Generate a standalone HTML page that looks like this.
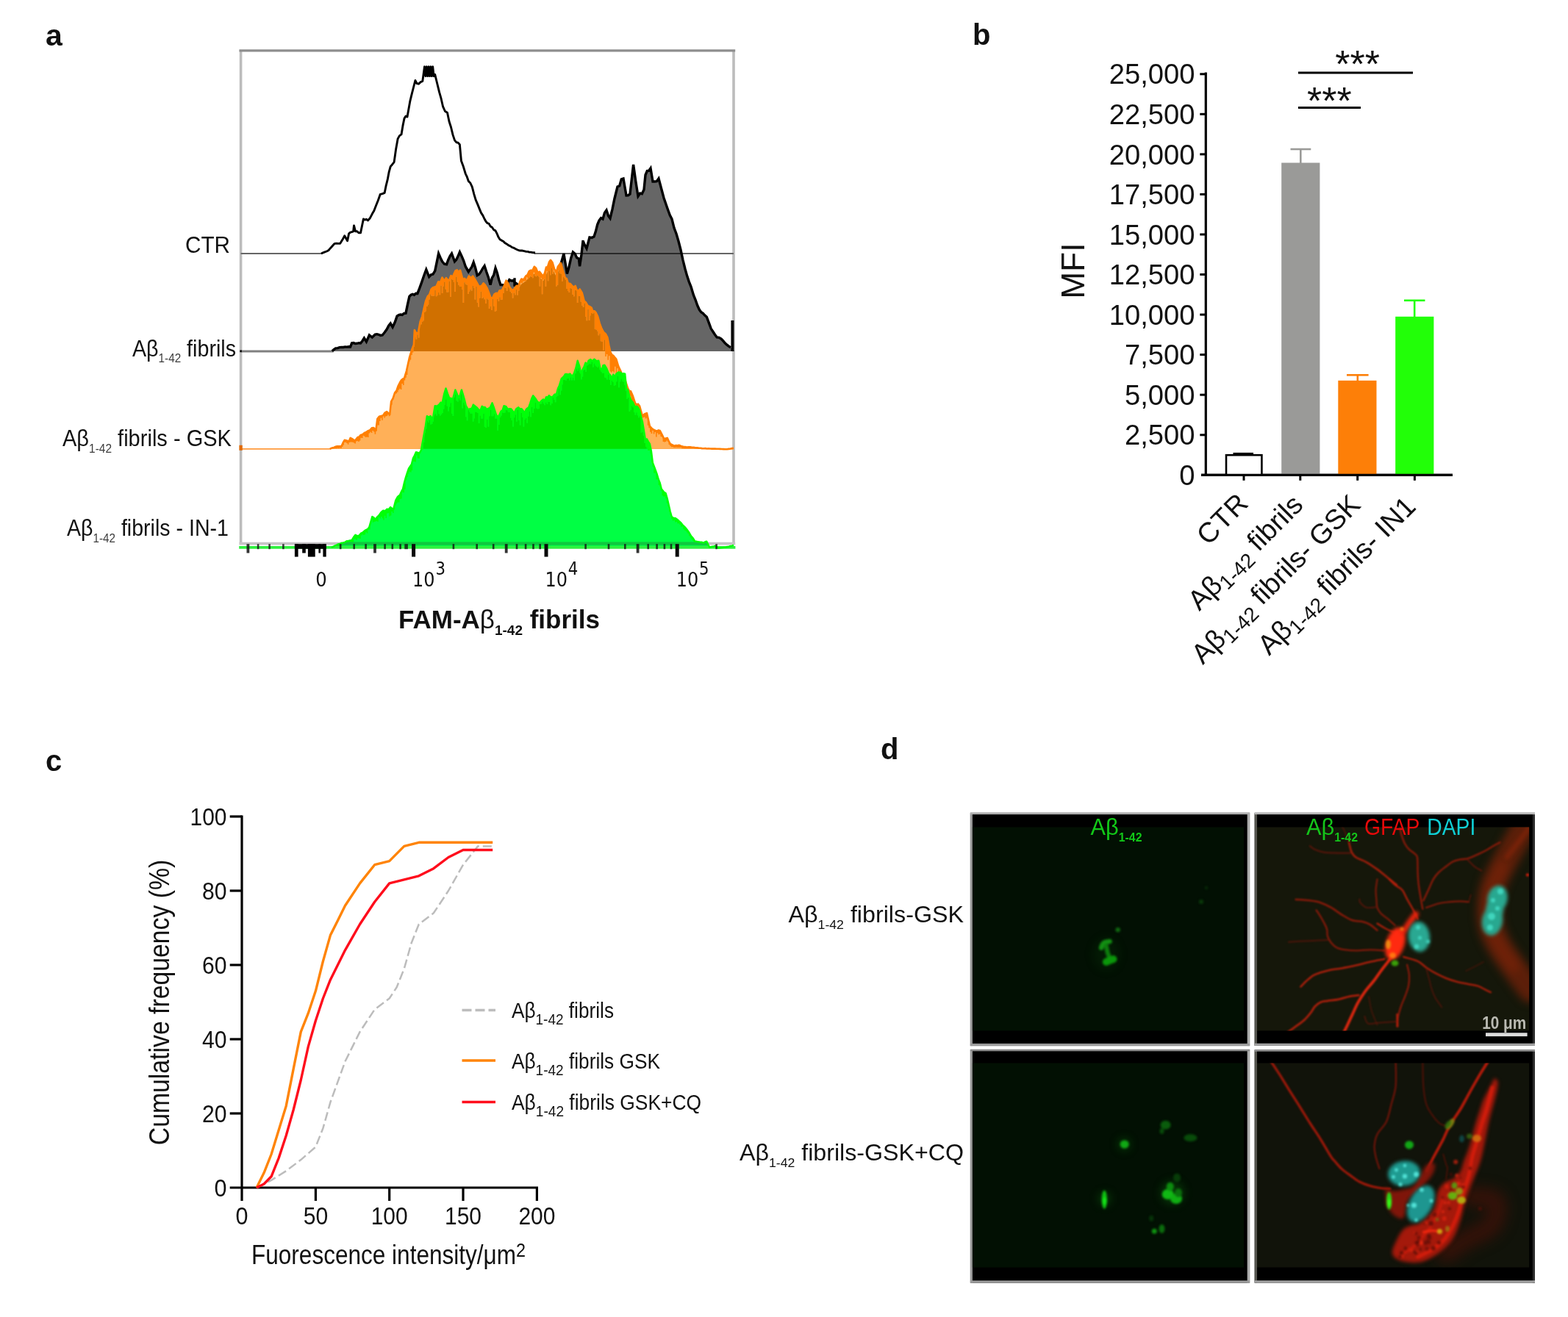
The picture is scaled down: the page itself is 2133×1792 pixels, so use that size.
<!DOCTYPE html>
<html lang="en">
<head>
<meta charset="utf-8">
<title>Figure</title>
<style>
html,body{margin:0;padding:0;background:#fff;}
body{width:2133px;height:1792px;overflow:hidden;}
svg{display:block;}
text{font-family:"Liberation Sans",sans-serif;fill:#111;}
.b{font-weight:bold;}
.dv{font-family:"DejaVu Sans","Liberation Sans",sans-serif;}
</style>
</head>
<body>
<svg width="2133" height="1792" viewBox="0 0 2133 1792">
<rect x="0" y="0" width="2133" height="1792" fill="#ffffff"/>
<g id="panel-a">
<text class="b" x="62" y="61.5" font-size="41">a</text>
<defs>
<clipPath id="cpa-gray"><path d="M451.8 478 L451.8 477.8 L456.7 473.8 L464.7 472.5 L476.6 471.9 L478.6 466.9 L490.5 466.9 L495.4 460 L498.4 464.9 L502.4 456 L506.3 459 L510.3 455 L520.2 456 L526.2 448.1 L531.2 440.1 L534.1 445.1 L540.1 430.2 L552 426.2 L556.9 403.4 L567.9 399.4 L573.8 383.6 L579.8 366.7 L583.7 376.6 L591.7 368.7 L596.6 344.9 L601.6 355.8 L607.5 359.8 L614.5 344.9 L618.5 355.8 L625.4 342.9 L633.3 362.7 L637.3 369.7 L644.2 356.8 L649.2 374.6 L659.1 361.7 L667.1 387.5 L674 364.7 L681 387.5 L686.9 389.5 L692.9 380.6 L700 383.6 L700 386.3 L700 389.7 L700 378.3 L700 384 L706.3 390.9 L709.3 386.6 L715.2 382.6 L722.2 374.7 L729.1 371.7 L739 382.6 L749 360.8 L756.9 376.7 L763.4 357.7 L766.9 345.1 L771.4 372.6 L779.4 342.9 L787.4 352 L788.6 362.3 L793.1 326.9 L793.1 328 L798 338 L802 323 L808 322 L815 300 L820 298 L825 286 L830 297 L836 270 L840 254 L848 243 L852 266 L857 264 L861.6 224 L868 267 L876 258 L878 238 L885 229 L888 247 L896 243 L900 258 L906 278 L914 298 L920 318 L926 340 L932 366 L940 390 L943.4 401.4 L951.3 421.3 L961.3 431.2 L967.2 447.1 L975.2 459 L981.1 461 L991 470.9 L994 472.9 L999 478 Z"/></clipPath>
<clipPath id="cpa-orange"><path d="M327.6 610.8 L448.8 610.8 L456.7 607.8 L464.7 606.8 L468.7 598.8 L474.6 600.8 L476.6 595.9 L482.5 599.8 L490.5 591.9 L498.4 587.9 L508.3 582 L511.3 586 L513.3 570.1 L518.3 566.1 L526.2 560.2 L530.2 564.1 L532.1 546.3 L537.1 534.4 L544 520.5 L550 514.5 L553 504.6 L556.9 486.7 L559.9 476.8 L562.9 468.9 L563.9 449 L568.8 453 L571.8 437.1 L576.8 419.3 L581.7 403.4 L586.7 393.5 L593.7 389.5 L601.6 377.6 L609.5 381.6 L617.5 372.7 L626 367.7 L629.9 381.6 L637.9 375.6 L645.8 379.6 L653.7 389.5 L659.7 387.5 L667.6 405.4 L677.5 399.4 L685.5 389.5 L688.5 381.6 L695.4 393.5 L705.3 389.5 L709.3 379.6 L715.2 375.6 L722.2 367.7 L729.1 364.7 L739 375.6 L749 353.8 L756.9 369.7 L762.9 357.8 L766.8 371.7 L772.8 385.6 L778.7 389.5 L788.7 393.5 L794.6 409.4 L802.5 417.3 L810.5 425.2 L818.4 447.1 L826.3 459 L830.3 478.8 L838.3 488.7 L844.2 504.6 L850.2 516.5 L854.1 528.4 L858.1 532.4 L864 548.3 L870 552.2 L874 566.1 L879.9 562.1 L883.9 580 L891.8 586 L897.8 586 L903.7 597.9 L907.7 595.9 L911.7 603.8 L917.6 606.8 L923.6 605.8 L929.5 607.8 L941.4 608.8 L957.3 610.2 L977.1 610.8 L989 611.3 L998 609.8 L999 610.8 Z"/></clipPath>
<clipPath id="cpa-green"><path d="M327.6 744.8 L450.8 744.7 L464.7 738.7 L478.6 734.8 L483.5 727.8 L488.5 728.8 L496.4 721.9 L502.4 716.9 L506.3 703 L510.3 707 L518.3 697.1 L524.2 695.1 L531.2 690.1 L535.1 693.1 L538.1 681.2 L544 673.3 L548 665.3 L552 649.4 L556 637.5 L559.9 631.6 L563.9 619.7 L567.9 615.7 L572.8 612.7 L575.8 595.9 L578.8 580 L580.8 566.1 L585.7 566.1 L588.7 570.1 L591.7 552.2 L597.6 550.2 L601.6 548.3 L606.5 528.4 L611.5 542.3 L615.5 544.3 L619.4 530.4 L623.4 540.3 L627.9 530.4 L633.9 552.2 L639.8 556.2 L645.8 552.2 L651.7 558.2 L657.7 554.2 L663.7 556.2 L669.6 548.3 L677.5 568.1 L685.5 552.2 L693.4 556.2 L699.4 562.1 L705.3 554.2 L713.3 562.1 L719.2 554.2 L725.2 538.3 L731.1 546.3 L739 543.3 L749 540.3 L756.9 536.3 L760.9 524.4 L766.8 512.5 L772.8 509.6 L780.7 508.6 L785.7 490.7 L790.6 508.6 L794.6 498.7 L800.6 490.7 L808.5 488.7 L814.4 490.7 L818.4 504.6 L822.4 496.7 L828.3 508.6 L832.3 514.5 L838.3 508.6 L844.2 506.6 L850.2 508.6 L852.1 528.4 L858.1 544.3 L864 554.2 L870 558.2 L874 574 L877.9 597.9 L883.9 603.8 L885.9 613.7 L887.9 629.6 L893.8 645.5 L899.8 665.3 L905.7 671.3 L909.7 687.1 L913.7 703 L923.6 709 L931.5 716.9 L937.5 724.8 L945.4 736.7 L957.3 738.7 L961.3 736.7 L965.2 744.7 L973.2 742.7 L977.1 745.7 L987.1 744.7 L998 741.7 L999 744.8 Z"/></clipPath>
</defs>
<g fill="none" stroke-width="3.6">
<path d="M327.6 68.8 V739.6 M998.0 68.8 V739.6" stroke="#bcbcbc"/>
<path d="M325.40000000000003 739.6 H1000.2" stroke="#c6c4c6"/>
<path d="M325.40000000000003 68.8 H1000.2" stroke="#8e8e8e" stroke-width="3.2"/>
</g>
<path d="M327.6 345.0 H437.9 M727.0 345.0 H998.0" fill="none" stroke="#666" stroke-width="2"/>
<path d="M436.9 345 L439.4 343.9 L441.9 342.9 L444.3 342 L446.8 340.7 L448.8 338.4 L450.8 336.2 L452.8 334 L454.8 331.7 L457.4 331.2 L460.1 331.4 L462.7 331.3 L464.7 328 L466.7 324.7 L468.7 320.8 L472.6 327.8 L474.6 317.9 L476.6 316.2 L478.6 315.6 L480.6 314.9 L481.5 306.9 L483.5 314.9 L485.8 314.8 L488.2 316.8 L490.5 316.9 L494.4 298 L496.4 299.1 L498.4 298.3 L500.4 300 L503.4 296.7 L506.3 291.1 L508.8 286.8 L511.3 280.2 L514.3 272.7 L517.3 264.3 L520.2 263.6 L523.2 262.3 L525.2 252.3 L527.2 244.4 L529.2 233.8 L531.2 226.6 L533.7 223.7 L536.1 220.6 L538.6 203 L541.1 188.9 L543.5 184.6 L546 182.9 L548 170.9 L550 161.1 L552 158 L554 159.1 L557.9 137.3 L560.2 127.9 L562.6 118.5 L564.9 109.5 L566.9 113.5 L569.5 114.2 L572.2 111.6 L574.8 110.5 L577.5 90.6 L578.9 103.5 L580.3 90.6 L581.7 103.5 L583.1 90.6 L584.5 103.5 L585.9 90.6 L587.3 103.5 L588.7 90.6 L590.1 103.5 L591.7 101.4 L593.7 109.5 L597.6 125.4 L600.1 134.2 L602.6 145.2 L605.5 151.5 L608.5 153.2 L611 165.3 L613.5 173 L616 183.4 L618.5 190.9 L620.8 193.7 L623.1 194.1 L625.4 196.8 L627.4 218.7 L630.3 226.6 L633.3 236.5 L635.3 240.7 L637.3 246.4 L639.8 249 L642.3 254.4 L644.8 264.1 L647.2 272.2 L649.7 277.9 L652.2 284.1 L654.5 289.6 L656.8 293.1 L659.1 298 L661.1 301.5 L663.1 303.7 L665.1 304.4 L667.1 307.9 L669.4 309.3 L671.7 312.7 L674 313.9 L676 317.8 L678 322.6 L680 325.8 L682.2 327.1 L684.5 328.2 L686.7 330.4 L688.9 331.7 L691.5 333.7 L694.2 334.8 L696.8 336.7 L699.2 337.4 L701.6 338.8 L704 340 L706 340.7 L708 341 L710 341 L712 341.4 L714 341.8 L716 342.4 L718 342.4 L720 343.1 L722 343.1 L724 343.5 L726 343.7 L728 344" fill="none" stroke="#000" stroke-width="2.9" stroke-linejoin="round"/>
<line x1="327.6" y1="478.0" x2="453.8" y2="478.0" stroke="#808080" stroke-width="2.8"/>
<rect x="326.20000000000005" y="476.4" width="2.8" height="2.8" fill="#111"/>
<path d="M451.8 478 L451.8 477.8 L454.2 475.6 L456.7 473.8 L459.4 473.6 L462 472.6 L464.7 472.5 L467.1 472.5 L469.5 471.9 L471.8 472.1 L474.2 471.8 L476.6 471.9 L478.6 466.9 L481 466.6 L483.4 467.5 L485.7 467.3 L488.1 466.7 L490.5 466.9 L492.9 464 L495.4 460 L498.4 464.9 L502.4 456 L506.3 459 L510.3 455 L512.8 454.7 L515.2 455.3 L517.7 456.4 L520.2 456 L523.2 452.3 L526.2 448.1 L528.7 443.2 L531.2 440.1 L534.1 445.1 L537.1 438.8 L540.1 430.2 L542.5 428.6 L544.9 428 L547.2 428.5 L549.6 426.5 L552 426.2 L554.5 414.2 L556.9 403.4 L559.1 401.2 L561.3 400.4 L563.5 401.3 L565.7 399.3 L567.9 399.4 L570.8 391.9 L573.8 383.6 L576.8 374.7 L579.8 366.7 L583.7 376.6 L586.4 373.8 L589 373.1 L591.7 368.7 L594.2 356.7 L596.6 344.9 L599.1 350.7 L601.6 355.8 L604.5 359.3 L607.5 359.8 L609.8 353.5 L612.2 348.4 L614.5 344.9 L618.5 355.8 L620.8 353.2 L623.1 348.6 L625.4 342.9 L628 348.4 L630.7 354.8 L633.3 362.7 L637.3 369.7 L639.6 366.4 L641.9 362.9 L644.2 356.8 L646.7 364.5 L649.2 374.6 L651.7 373.1 L654.2 369.7 L656.6 365.3 L659.1 361.7 L661.8 370 L664.4 377.4 L667.1 387.5 L669.4 378.2 L671.7 374.1 L674 364.7 L676.3 371.3 L678.7 380.7 L681 387.5 L684 387.6 L686.9 389.5 L689.9 386.2 L692.9 380.6 L695.3 382 L697.6 381.8 L700 383.6 L700 386.3 L700 389.7 L700 378.3 L700 384 L703.1 386.3 L706.3 390.9 L709.3 386.6 L712.2 385.4 L715.2 382.6 L717.5 378.3 L719.9 376.3 L722.2 374.7 L724.5 373.9 L726.8 374.1 L729.1 371.7 L731.6 374.9 L734 376.3 L736.5 381.4 L739 382.6 L741.5 376 L744 369.8 L746.5 365.3 L749 360.8 L751.6 365.9 L754.3 369.7 L756.9 376.7 L760.1 365.9 L763.4 357.7 L766.9 345.1 L769.1 358.3 L771.4 372.6 L774.1 363 L776.7 351.2 L779.4 342.9 L782.1 345.3 L784.7 350.7 L787.4 352 L788.6 362.3 L790.9 346.7 L793.1 326.9 L793.1 328 L795.5 333.7 L798 338 L802 323 L805 323.4 L808 322 L810.3 315.1 L812.7 305.6 L815 300 L817.5 296.6 L820 298 L822.5 289.5 L825 286 L827.5 293.6 L830 297 L833 284.6 L836 270 L840 254 L842.7 253 L845.3 243.9 L848 243 L852 266 L854.5 265.8 L857 264 L859.3 243.9 L861.6 224 L864.8 246.8 L868 267 L870.7 263 L873.3 263.8 L876 258 L878 238 L880.3 232.5 L882.7 232.3 L885 229 L888 247 L890.7 247 L893.3 246.7 L896 243 L900 258 L903 269.3 L906 278 L908.7 285.7 L911.3 292.9 L914 298 L917 310.1 L920 318 L923 328.3 L926 340 L929 353.8 L932 366 L934.7 375.6 L937.3 383.4 L940 390 L943.4 401.4 L946 407.8 L948.7 415.5 L951.3 421.3 L953.8 424.8 L956.3 426.4 L958.8 429.1 L961.3 431.2 L964.2 438.9 L967.2 447.1 L969.9 451.2 L972.5 455.2 L975.2 459 L978.2 459.3 L981.1 461 L983.6 463.7 L986 466.6 L988.5 468.9 L991 470.9 L994 472.9 L999 478 Z" fill="#000" fill-opacity="0.6"/>
<path d="M451.8 477.8 L454.2 475.6 L456.7 473.8 L459.4 473.6 L462 472.6 L464.7 472.5 L467.1 472.5 L469.5 471.9 L471.8 472.1 L474.2 471.8 L476.6 471.9 L478.6 466.9 L481 466.6 L483.4 467.5 L485.7 467.3 L488.1 466.7 L490.5 466.9 L492.9 464 L495.4 460 L498.4 464.9 L502.4 456 L506.3 459 L510.3 455 L512.8 454.7 L515.2 455.3 L517.7 456.4 L520.2 456 L523.2 452.3 L526.2 448.1 L528.7 443.2 L531.2 440.1 L534.1 445.1 L537.1 438.8 L540.1 430.2 L542.5 428.6 L544.9 428 L547.2 428.5 L549.6 426.5 L552 426.2 L554.5 414.2 L556.9 403.4 L559.1 401.2 L561.3 400.4 L563.5 401.3 L565.7 399.3 L567.9 399.4 L570.8 391.9 L573.8 383.6 L576.8 374.7 L579.8 366.7 L583.7 376.6 L586.4 373.8 L589 373.1 L591.7 368.7 L594.2 356.7 L596.6 344.9 L599.1 350.7 L601.6 355.8 L604.5 359.3 L607.5 359.8 L609.8 353.5 L612.2 348.4 L614.5 344.9 L618.5 355.8 L620.8 353.2 L623.1 348.6 L625.4 342.9 L628 348.4 L630.7 354.8 L633.3 362.7 L637.3 369.7 L639.6 366.4 L641.9 362.9 L644.2 356.8 L646.7 364.5 L649.2 374.6 L651.7 373.1 L654.2 369.7 L656.6 365.3 L659.1 361.7 L661.8 370 L664.4 377.4 L667.1 387.5 L669.4 378.2 L671.7 374.1 L674 364.7 L676.3 371.3 L678.7 380.7 L681 387.5 L684 387.6 L686.9 389.5 L689.9 386.2 L692.9 380.6 L695.3 382 L697.6 381.8 L700 383.6 L700 386.3 L700 389.7 L700 378.3 L700 384 L703.1 386.3 L706.3 390.9 L709.3 386.6 L712.2 385.4 L715.2 382.6 L717.5 378.3 L719.9 376.3 L722.2 374.7 L724.5 373.9 L726.8 374.1 L729.1 371.7 L731.6 374.9 L734 376.3 L736.5 381.4 L739 382.6 L741.5 376 L744 369.8 L746.5 365.3 L749 360.8 L751.6 365.9 L754.3 369.7 L756.9 376.7 L760.1 365.9 L763.4 357.7 L766.9 345.1 L769.1 358.3 L771.4 372.6 L774.1 363 L776.7 351.2 L779.4 342.9 L782.1 345.3 L784.7 350.7 L787.4 352 L788.6 362.3 L790.9 346.7 L793.1 326.9 L793.1 328 L795.5 333.7 L798 338 L802 323 L805 323.4 L808 322 L810.3 315.1 L812.7 305.6 L815 300 L817.5 296.6 L820 298 L822.5 289.5 L825 286 L827.5 293.6 L830 297 L833 284.6 L836 270 L840 254 L842.7 253 L845.3 243.9 L848 243 L852 266 L854.5 265.8 L857 264 L859.3 243.9 L861.6 224 L864.8 246.8 L868 267 L870.7 263 L873.3 263.8 L876 258 L878 238 L880.3 232.5 L882.7 232.3 L885 229 L888 247 L890.7 247 L893.3 246.7 L896 243 L900 258 L903 269.3 L906 278 L908.7 285.7 L911.3 292.9 L914 298 L917 310.1 L920 318 L923 328.3 L926 340 L929 353.8 L932 366 L934.7 375.6 L937.3 383.4 L940 390 L943.4 401.4 L946 407.8 L948.7 415.5 L951.3 421.3 L953.8 424.8 L956.3 426.4 L958.8 429.1 L961.3 431.2 L964.2 438.9 L967.2 447.1 L969.9 451.2 L972.5 455.2 L975.2 459 L978.2 459.3 L981.1 461 L983.6 463.7 L986 466.6 L988.5 468.9 L991 470.9 L994 472.9" fill="none" stroke="#000" stroke-width="3.4" stroke-linejoin="miter"/>
<line x1="996.4" y1="436" x2="996.4" y2="478.0" stroke="#000" stroke-width="4"/>
<path d="M448.8 610.8 L448.8 610.8 L451.4 609.6 L454.1 609 L456.7 607.8 L458.7 607.2 L460.7 607.3 L462.7 607.4 L464.7 606.8 L466.7 602.2 L468.7 598.8 L471.6 599.4 L474.6 600.8 L476.6 595.9 L479.6 597.5 L482.5 599.8 L484.5 597.5 L486.5 595.1 L488.5 594.6 L490.5 591.9 L493.1 591.2 L495.8 589 L498.4 587.9 L500.9 586.1 L503.4 585.1 L505.8 582.4 L508.3 582 L511.3 586 L513.3 570.1 L515.8 566.7 L518.3 566.1 L520.9 565.4 L523.6 561.6 L526.2 560.2 L528.2 562.1 L530.2 564.1 L532.1 546.3 L534.6 542 L537.1 534.4 L539.4 531.7 L541.7 525 L544 520.5 L546 517.2 L548 515.6 L550 514.5 L553 504.6 L556.9 486.7 L559.9 476.8 L562.9 468.9 L563.9 449 L566.3 453.4 L568.8 453 L571.8 437.1 L574.3 430.6 L576.8 419.3 L579.2 409.4 L581.7 403.4 L584.2 400.7 L586.7 393.5 L589 391.2 L591.4 390.6 L593.7 389.5 L596.3 383.3 L599 384.2 L601.6 377.6 L604.2 382.4 L606.9 378.2 L609.5 381.6 L611.5 380.3 L613.5 375 L615.5 377.6 L617.5 372.7 L619.6 368.3 L621.8 367.4 L623.9 370.5 L626 367.7 L629.9 381.6 L631.9 378.8 L633.9 381.4 L635.9 379.7 L637.9 375.6 L640.5 378.4 L643.2 375.7 L645.8 379.6 L648.4 384.2 L651.1 389.2 L653.7 389.5 L655.7 388.5 L657.7 385.3 L659.7 387.5 L662.3 391.6 L665 398.2 L667.6 405.4 L670.1 405.3 L672.5 400.4 L675 398.8 L677.5 399.4 L679.5 395.2 L681.5 395.6 L683.5 393.9 L685.5 389.5 L688.5 381.6 L690.8 384.7 L693.1 390.6 L695.4 393.5 L697.9 395.1 L700.3 392.1 L702.8 388.7 L705.3 389.5 L707.3 383.2 L709.3 379.6 L712.2 380.6 L715.2 375.6 L717.5 374.1 L719.9 368.8 L722.2 367.7 L724.5 367.7 L726.8 362.8 L729.1 364.7 L731.6 370.9 L734 369.7 L736.5 373.1 L739 375.6 L741 371.5 L743 363.6 L745 363.2 L747 356.6 L749 353.8 L751.6 357.3 L754.3 366.6 L756.9 369.7 L758.9 362.8 L760.9 360.2 L762.9 357.8 L766.8 371.7 L768.8 378.1 L770.8 379.2 L772.8 385.6 L775.8 386 L778.7 389.5 L780.7 390.6 L782.7 389 L784.7 394.6 L786.7 396 L788.7 393.5 L791.7 398.4 L794.6 409.4 L797.2 411.8 L799.9 416.3 L802.5 417.3 L804.5 418.5 L806.5 423.9 L808.5 423.2 L810.5 425.2 L813.1 430.6 L815.8 440.1 L818.4 447.1 L821 451.9 L823.7 454.2 L826.3 459 L828.3 469.8 L830.3 478.8 L832.3 482.7 L834.3 483.8 L836.3 486.3 L838.3 488.7 L841.2 498.3 L844.2 504.6 L846.2 509.4 L848.2 512.6 L850.2 516.5 L854.1 528.4 L856.1 532.2 L858.1 532.4 L861 539.1 L864 548.3 L866 550.6 L868 549.7 L870 552.2 L872 559.5 L874 566.1 L877 563.3 L879.9 562.1 L881.9 570.9 L883.9 580 L886.5 582.7 L889.2 584.7 L891.8 586 L893.8 586.7 L895.8 585.4 L897.8 586 L900.8 591.9 L903.7 597.9 L905.7 596.4 L907.7 595.9 L909.7 600 L911.7 603.8 L914.7 605.3 L917.6 606.8 L919.6 606 L921.6 606.2 L923.6 605.8 L926.5 607 L929.5 607.8 L931.9 608.1 L934.3 608.5 L936.6 608.2 L939 608.4 L941.4 608.8 L943.7 608.7 L945.9 609.2 L948.2 609.4 L950.5 609.6 L952.8 609.7 L955 610.1 L957.3 610.2 L959.5 610.1 L961.7 610.5 L963.9 610.4 L966.1 610.5 L968.3 610.6 L970.5 610.5 L972.7 610.6 L974.9 610.7 L977.1 610.8 L979.5 610.9 L981.9 611 L984.2 611.1 L986.6 611.2 L989 611.3 L991.2 610.9 L993.5 610.6 L995.8 610 L998 609.8 L998 610.8 Z" fill="#ff8004"/>
<path d="M448.8 610.8 L448.8 610.8 L450.4 610.8 L450.4 610.8 L452 610.8 L452 610.8 L453.6 610.8 L453.6 610.8 L455.2 610.8 L455.2 610.4 L456.8 610.4 L456.8 610.8 L458.4 610.8 L458.4 609.8 L460 609.8 L460 610.3 L461.6 610.3 L461.6 609.6 L463.2 609.6 L463.2 610 L464.8 610 L464.8 608.1 L466.4 608.1 L466.4 605.6 L468 605.6 L468 601.9 L469.6 601.9 L469.6 601.7 L471.2 601.7 L471.2 603.1 L472.8 603.1 L472.8 604.8 L474.4 604.8 L474.4 602 L476 602 L476 601.5 L477.6 601.5 L477.6 601.5 L479.2 601.5 L479.2 601.7 L480.8 601.7 L480.8 602.5 L482.4 602.5 L482.4 603.6 L484 603.6 L484 600.5 L485.6 600.5 L485.6 599.9 L487.2 599.9 L487.2 600.9 L488.8 600.9 L488.8 599.5 L490.4 599.5 L490.4 595.7 L492 595.7 L492 596.1 L493.6 596.1 L493.6 592.8 L495.2 592.8 L495.2 593.8 L496.8 593.8 L496.8 595.1 L498.4 595.1 L498.4 594.4 L500 594.4 L500 594.9 L501.6 594.9 L501.6 589.5 L503.2 589.5 L503.2 587.8 L504.8 587.8 L504.8 588.9 L506.4 588.9 L506.4 586.1 L508 586.1 L508 587.4 L509.6 587.4 L509.6 590.7 L511.2 590.7 L511.2 585.9 L512.8 585.9 L512.8 578.5 L514.4 578.5 L514.4 578.6 L516 578.6 L516 573 L517.6 573 L517.6 568.8 L519.2 568.8 L519.2 571.7 L520.8 571.7 L520.8 566.1 L522.4 566.1 L522.4 568.5 L524 568.5 L524 566.6 L525.6 566.6 L525.6 566 L527.2 566 L527.2 564.3 L528.8 564.3 L528.8 566.3 L530.4 566.3 L530.4 559 L532 559 L532 550.7 L533.6 550.7 L533.6 544.1 L535.2 544.1 L535.2 539.9 L536.8 539.9 L536.8 535.9 L538.4 535.9 L538.4 535.3 L540 535.3 L540 533.5 L541.6 533.5 L541.6 530.6 L543.2 530.6 L543.2 528.7 L544.8 528.7 L544.8 529.9 L546.4 529.9 L546.4 521.9 L548 521.9 L548 524 L549.6 524 L549.6 517.6 L551.2 517.6 L551.2 513.7 L552.8 513.7 L552.8 509.9 L554.4 509.9 L554.4 498.1 L556 498.1 L556 491.7 L557.6 491.7 L557.6 489.5 L559.2 489.5 L559.2 482.9 L560.8 482.9 L560.8 479.6 L562.4 479.6 L562.4 471.8 L564 471.8 L564 459 L565.6 459 L565.6 461.4 L567.2 461.4 L567.2 455.3 L568.8 455.3 L568.8 459.4 L570.4 459.4 L570.4 444 L572 444 L572 441.3 L573.6 441.3 L573.6 437.9 L575.2 437.9 L575.2 436.2 L576.8 436.2 L576.8 424.8 L578.4 424.8 L578.4 423.2 L580 423.2 L580 417 L581.6 417 L581.6 414.4 L583.2 414.4 L583.2 407.5 L584.8 407.5 L584.8 399.7 L586.4 399.7 L586.4 402.6 L588 402.6 L588 402.7 L589.6 402.7 L589.6 402.5 L591.2 402.5 L591.2 395.1 L592.8 395.1 L592.8 403.2 L594.4 403.2 L594.4 401.9 L596 401.9 L596 397.9 L597.6 397.9 L597.6 401.2 L599.2 401.2 L599.2 388.4 L600.8 388.4 L600.8 399.1 L602.4 399.1 L602.4 389.4 L604 389.4 L604 383.3 L605.6 383.3 L605.6 393.6 L607.2 393.6 L607.2 397.5 L608.8 397.5 L608.8 397.4 L610.4 397.4 L610.4 382.6 L612 382.6 L612 404 L613.6 404 L613.6 379.9 L615.2 379.9 L615.2 381 L616.8 381 L616.8 384 L618.4 384 L618.4 397.1 L620 397.1 L620 376.5 L621.6 376.5 L621.6 383.6 L623.2 383.6 L623.2 387.8 L624.8 387.8 L624.8 389.8 L626.4 389.8 L626.4 390 L628 390 L628 393.7 L629.6 393.7 L629.6 411.9 L631.2 411.9 L631.2 384.3 L632.8 384.3 L632.8 386.8 L634.4 386.8 L634.4 387.6 L636 387.6 L636 399.9 L637.6 399.9 L637.6 396.5 L639.2 396.5 L639.2 393.7 L640.8 393.7 L640.8 395.6 L642.4 395.6 L642.4 388.9 L644 388.9 L644 391.8 L645.6 391.8 L645.6 407.6 L647.2 407.6 L647.2 390 L648.8 390 L648.8 411.8 L650.4 411.8 L650.4 417.6 L652 417.6 L652 405.4 L653.6 405.4 L653.6 396.7 L655.2 396.7 L655.2 406.1 L656.8 406.1 L656.8 404.6 L658.4 404.6 L658.4 407.2 L660 407.2 L660 413.1 L661.6 413.1 L661.6 406.3 L663.2 406.3 L663.2 407.4 L664.8 407.4 L664.8 420 L666.4 420 L666.4 417.1 L668 417.1 L668 422 L669.6 422 L669.6 407.1 L671.2 407.1 L671.2 416.5 L672.8 416.5 L672.8 424.1 L674.4 424.1 L674.4 422.4 L676 422.4 L676 407.1 L677.6 407.1 L677.6 409.8 L679.2 409.8 L679.2 404.3 L680.8 404.3 L680.8 408.1 L682.4 408.1 L682.4 407.4 L684 407.4 L684 399 L685.6 399 L685.6 391.2 L687.2 391.2 L687.2 391.7 L688.8 391.7 L688.8 396 L690.4 396 L690.4 389.7 L692 389.7 L692 391.6 L693.6 391.6 L693.6 396.7 L695.2 396.7 L695.2 398.7 L696.8 398.7 L696.8 405.6 L698.4 405.6 L698.4 398.4 L700 398.4 L700 401.2 L701.6 401.2 L701.6 394.1 L703.2 394.1 L703.2 401.5 L704.8 401.5 L704.8 395.4 L706.4 395.4 L706.4 389.1 L708 389.1 L708 384.7 L709.6 384.7 L709.6 385.6 L711.2 385.6 L711.2 383.1 L712.8 383.1 L712.8 382.4 L714.4 382.4 L714.4 382.4 L716 382.4 L716 377.3 L717.6 377.3 L717.6 379.7 L719.2 379.7 L719.2 378 L720.8 378 L720.8 375.2 L722.4 375.2 L722.4 377.1 L724 377.1 L724 378.2 L725.6 378.2 L725.6 370.4 L727.2 370.4 L727.2 375.4 L728.8 375.4 L728.8 376.3 L730.4 376.3 L730.4 374.5 L732 374.5 L732 376.2 L733.6 376.2 L733.6 389.5 L735.2 389.5 L735.2 378 L736.8 378 L736.8 400.2 L738.4 400.2 L738.4 380.4 L740 380.4 L740 379.6 L741.6 379.6 L741.6 389.7 L743.2 389.7 L743.2 368.8 L744.8 368.8 L744.8 382.2 L746.4 382.2 L746.4 368.9 L748 368.9 L748 374.2 L749.6 374.2 L749.6 364.9 L751.2 364.9 L751.2 372.8 L752.8 372.8 L752.8 365.6 L754.4 365.6 L754.4 371.3 L756 371.3 L756 389.4 L757.6 389.4 L757.6 387.8 L759.2 387.8 L759.2 367.7 L760.8 367.7 L760.8 371.9 L762.4 371.9 L762.4 372.5 L764 372.5 L764 382.8 L765.6 382.8 L765.6 376.4 L767.2 376.4 L767.2 378.1 L768.8 378.1 L768.8 380.9 L770.4 380.9 L770.4 393 L772 393 L772 396.1 L773.6 396.1 L773.6 398.1 L775.2 398.1 L775.2 391.7 L776.8 391.7 L776.8 392.9 L778.4 392.9 L778.4 400.8 L780 400.8 L780 403.2 L781.6 403.2 L781.6 394.7 L783.2 394.7 L783.2 394.8 L784.8 394.8 L784.8 411.9 L786.4 411.9 L786.4 403 L788 403 L788 402.8 L789.6 402.8 L789.6 410.4 L791.2 410.4 L791.2 415.8 L792.8 415.8 L792.8 418.1 L794.4 418.1 L794.4 412.5 L796 412.5 L796 430.8 L797.6 430.8 L797.6 436.2 L799.2 436.2 L799.2 420.9 L800.8 420.9 L800.8 436 L802.4 436 L802.4 429.2 L804 429.2 L804 425.9 L805.6 425.9 L805.6 426.8 L807.2 426.8 L807.2 425.3 L808.8 425.3 L808.8 448.1 L810.4 448.1 L810.4 448.5 L812 448.5 L812 450.4 L813.6 450.4 L813.6 456.3 L815.2 456.3 L815.2 453.8 L816.8 453.8 L816.8 464.3 L818.4 464.3 L818.4 464.7 L820 464.7 L820 476.6 L821.6 476.6 L821.6 462.2 L823.2 462.2 L823.2 484.9 L824.8 484.9 L824.8 481.9 L826.4 481.9 L826.4 489.7 L828 489.7 L828 484.3 L829.6 484.3 L829.6 505.5 L831.2 505.5 L831.2 506.7 L832.8 506.7 L832.8 505.1 L834.4 505.1 L834.4 506.8 L836 506.8 L836 498.8 L837.6 498.8 L837.6 509.2 L839.2 509.2 L839.2 501.2 L840.8 501.2 L840.8 507.6 L842.4 507.6 L842.4 504.3 L844 504.3 L844 513.5 L845.6 513.5 L845.6 522.1 L847.2 522.1 L847.2 518 L848.8 518 L848.8 533.7 L850.4 533.7 L850.4 532.4 L852 532.4 L852 535.5 L853.6 535.5 L853.6 538.2 L855.2 538.2 L855.2 539.2 L856.8 539.2 L856.8 538.8 L858.4 538.8 L858.4 548.1 L860 548.1 L860 552.9 L861.6 552.9 L861.6 557.7 L863.2 557.7 L863.2 564.8 L864.8 564.8 L864.8 557.6 L866.4 557.6 L866.4 559.9 L868 559.9 L868 555.9 L869.6 555.9 L869.6 559.4 L871.2 559.4 L871.2 562.4 L872.8 562.4 L872.8 568.7 L874.4 568.7 L874.4 568 L876 568 L876 567.6 L877.6 567.6 L877.6 569.5 L879.2 569.5 L879.2 568.6 L880.8 568.6 L880.8 578.7 L882.4 578.7 L882.4 582.3 L884 582.3 L884 587.7 L885.6 587.7 L885.6 590.1 L887.2 590.1 L887.2 585.8 L888.8 585.8 L888.8 590.5 L890.4 590.5 L890.4 588.1 L892 588.1 L892 594.4 L893.6 594.4 L893.6 589.2 L895.2 589.2 L895.2 591.2 L896.8 591.2 L896.8 590.7 L898.4 590.7 L898.4 593.9 L900 593.9 L900 594.5 L901.6 594.5 L901.6 600.9 L903.2 600.9 L903.2 601.5 L904.8 601.5 L904.8 601 L906.4 601 L906.4 599.5 L908 599.5 L908 601.1 L909.6 601.1 L909.6 604.9 L911.2 604.9 L911.2 606.7 L912.8 606.7 L912.8 608.2 L914.4 608.2 L914.4 608.3 L916 608.3 L916 608.9 L917.6 608.9 L917.6 609 L919.2 609 L919.2 608.8 L920.8 608.8 L920.8 609.1 L922.4 609.1 L922.4 608.9 L924 608.9 L924 609.1 L925.6 609.1 L925.6 609.1 L927.2 609.1 L927.2 610.2 L928.8 610.2 L928.8 610.2 L930.4 610.2 L930.4 610.8 L932 610.8 L932 610.7 L933.6 610.7 L933.6 610.8 L935.2 610.8 L935.2 610.8 L936.8 610.8 L936.8 610.8 L938.4 610.8 L938.4 610.8 L940 610.8 L940 610.8 L941.6 610.8 L941.6 610.8 L943.2 610.8 L943.2 610.8 L944.8 610.8 L944.8 610.8 L946.4 610.8 L946.4 610.8 L948 610.8 L948 610.8 L949.6 610.8 L949.6 610.8 L951.2 610.8 L951.2 610.8 L952.8 610.8 L952.8 610.8 L954.4 610.8 L954.4 610.8 L956 610.8 L956 610.8 L957.6 610.8 L957.6 610.8 L959.2 610.8 L959.2 610.8 L960.8 610.8 L960.8 610.8 L962.4 610.8 L962.4 610.8 L964 610.8 L964 610.8 L965.6 610.8 L965.6 610.8 L967.2 610.8 L967.2 610.8 L968.8 610.8 L968.8 610.8 L970.4 610.8 L970.4 610.8 L972 610.8 L972 610.8 L973.6 610.8 L973.6 610.8 L975.2 610.8 L975.2 610.8 L976.8 610.8 L976.8 610.8 L978.4 610.8 L978.4 610.8 L980 610.8 L980 610.8 L981.6 610.8 L981.6 610.8 L983.2 610.8 L983.2 610.8 L984.8 610.8 L984.8 610.8 L986.4 610.8 L986.4 610.8 L988 610.8 L988 610.8 L989.6 610.8 L989.6 610.8 L991.2 610.8 L991.2 610.8 L992.8 610.8 L992.8 610.8 L994.4 610.8 L994.4 610.8 L996 610.8 L996 610.8 L997.6 610.8 L997.6 610.8 L998 610.8 L998 610.8 Z" fill="#ffb058"/>
<path d="M448.8 610.8 L448.8 610.8 L450.4 610.8 L450.4 610.8 L452 610.8 L452 610.8 L453.6 610.8 L453.6 610.8 L455.2 610.8 L455.2 610.4 L456.8 610.4 L456.8 610.8 L458.4 610.8 L458.4 609.8 L460 609.8 L460 610.3 L461.6 610.3 L461.6 609.6 L463.2 609.6 L463.2 610 L464.8 610 L464.8 608.1 L466.4 608.1 L466.4 605.6 L468 605.6 L468 601.9 L469.6 601.9 L469.6 601.7 L471.2 601.7 L471.2 603.1 L472.8 603.1 L472.8 604.8 L474.4 604.8 L474.4 602 L476 602 L476 601.5 L477.6 601.5 L477.6 601.5 L479.2 601.5 L479.2 601.7 L480.8 601.7 L480.8 602.5 L482.4 602.5 L482.4 603.6 L484 603.6 L484 600.5 L485.6 600.5 L485.6 599.9 L487.2 599.9 L487.2 600.9 L488.8 600.9 L488.8 599.5 L490.4 599.5 L490.4 595.7 L492 595.7 L492 596.1 L493.6 596.1 L493.6 592.8 L495.2 592.8 L495.2 593.8 L496.8 593.8 L496.8 595.1 L498.4 595.1 L498.4 594.4 L500 594.4 L500 594.9 L501.6 594.9 L501.6 589.5 L503.2 589.5 L503.2 587.8 L504.8 587.8 L504.8 588.9 L506.4 588.9 L506.4 586.1 L508 586.1 L508 587.4 L509.6 587.4 L509.6 590.7 L511.2 590.7 L511.2 585.9 L512.8 585.9 L512.8 578.5 L514.4 578.5 L514.4 578.6 L516 578.6 L516 573 L517.6 573 L517.6 568.8 L519.2 568.8 L519.2 571.7 L520.8 571.7 L520.8 566.1 L522.4 566.1 L522.4 568.5 L524 568.5 L524 566.6 L525.6 566.6 L525.6 566 L527.2 566 L527.2 564.3 L528.8 564.3 L528.8 566.3 L530.4 566.3 L530.4 559 L532 559 L532 550.7 L533.6 550.7 L533.6 544.1 L535.2 544.1 L535.2 539.9 L536.8 539.9 L536.8 535.9 L538.4 535.9 L538.4 535.3 L540 535.3 L540 533.5 L541.6 533.5 L541.6 530.6 L543.2 530.6 L543.2 528.7 L544.8 528.7 L544.8 529.9 L546.4 529.9 L546.4 521.9 L548 521.9 L548 524 L549.6 524 L549.6 517.6 L551.2 517.6 L551.2 513.7 L552.8 513.7 L552.8 509.9 L554.4 509.9 L554.4 498.1 L556 498.1 L556 491.7 L557.6 491.7 L557.6 489.5 L559.2 489.5 L559.2 482.9 L560.8 482.9 L560.8 479.6 L562.4 479.6 L562.4 471.8 L564 471.8 L564 459 L565.6 459 L565.6 461.4 L567.2 461.4 L567.2 455.3 L568.8 455.3 L568.8 459.4 L570.4 459.4 L570.4 444 L572 444 L572 441.3 L573.6 441.3 L573.6 437.9 L575.2 437.9 L575.2 436.2 L576.8 436.2 L576.8 424.8 L578.4 424.8 L578.4 423.2 L580 423.2 L580 417 L581.6 417 L581.6 414.4 L583.2 414.4 L583.2 407.5 L584.8 407.5 L584.8 399.7 L586.4 399.7 L586.4 402.6 L588 402.6 L588 402.7 L589.6 402.7 L589.6 402.5 L591.2 402.5 L591.2 395.1 L592.8 395.1 L592.8 403.2 L594.4 403.2 L594.4 401.9 L596 401.9 L596 397.9 L597.6 397.9 L597.6 401.2 L599.2 401.2 L599.2 388.4 L600.8 388.4 L600.8 399.1 L602.4 399.1 L602.4 389.4 L604 389.4 L604 383.3 L605.6 383.3 L605.6 393.6 L607.2 393.6 L607.2 397.5 L608.8 397.5 L608.8 397.4 L610.4 397.4 L610.4 382.6 L612 382.6 L612 404 L613.6 404 L613.6 379.9 L615.2 379.9 L615.2 381 L616.8 381 L616.8 384 L618.4 384 L618.4 397.1 L620 397.1 L620 376.5 L621.6 376.5 L621.6 383.6 L623.2 383.6 L623.2 387.8 L624.8 387.8 L624.8 389.8 L626.4 389.8 L626.4 390 L628 390 L628 393.7 L629.6 393.7 L629.6 411.9 L631.2 411.9 L631.2 384.3 L632.8 384.3 L632.8 386.8 L634.4 386.8 L634.4 387.6 L636 387.6 L636 399.9 L637.6 399.9 L637.6 396.5 L639.2 396.5 L639.2 393.7 L640.8 393.7 L640.8 395.6 L642.4 395.6 L642.4 388.9 L644 388.9 L644 391.8 L645.6 391.8 L645.6 407.6 L647.2 407.6 L647.2 390 L648.8 390 L648.8 411.8 L650.4 411.8 L650.4 417.6 L652 417.6 L652 405.4 L653.6 405.4 L653.6 396.7 L655.2 396.7 L655.2 406.1 L656.8 406.1 L656.8 404.6 L658.4 404.6 L658.4 407.2 L660 407.2 L660 413.1 L661.6 413.1 L661.6 406.3 L663.2 406.3 L663.2 407.4 L664.8 407.4 L664.8 420 L666.4 420 L666.4 417.1 L668 417.1 L668 422 L669.6 422 L669.6 407.1 L671.2 407.1 L671.2 416.5 L672.8 416.5 L672.8 424.1 L674.4 424.1 L674.4 422.4 L676 422.4 L676 407.1 L677.6 407.1 L677.6 409.8 L679.2 409.8 L679.2 404.3 L680.8 404.3 L680.8 408.1 L682.4 408.1 L682.4 407.4 L684 407.4 L684 399 L685.6 399 L685.6 391.2 L687.2 391.2 L687.2 391.7 L688.8 391.7 L688.8 396 L690.4 396 L690.4 389.7 L692 389.7 L692 391.6 L693.6 391.6 L693.6 396.7 L695.2 396.7 L695.2 398.7 L696.8 398.7 L696.8 405.6 L698.4 405.6 L698.4 398.4 L700 398.4 L700 401.2 L701.6 401.2 L701.6 394.1 L703.2 394.1 L703.2 401.5 L704.8 401.5 L704.8 395.4 L706.4 395.4 L706.4 389.1 L708 389.1 L708 384.7 L709.6 384.7 L709.6 385.6 L711.2 385.6 L711.2 383.1 L712.8 383.1 L712.8 382.4 L714.4 382.4 L714.4 382.4 L716 382.4 L716 377.3 L717.6 377.3 L717.6 379.7 L719.2 379.7 L719.2 378 L720.8 378 L720.8 375.2 L722.4 375.2 L722.4 377.1 L724 377.1 L724 378.2 L725.6 378.2 L725.6 370.4 L727.2 370.4 L727.2 375.4 L728.8 375.4 L728.8 376.3 L730.4 376.3 L730.4 374.5 L732 374.5 L732 376.2 L733.6 376.2 L733.6 389.5 L735.2 389.5 L735.2 378 L736.8 378 L736.8 400.2 L738.4 400.2 L738.4 380.4 L740 380.4 L740 379.6 L741.6 379.6 L741.6 389.7 L743.2 389.7 L743.2 368.8 L744.8 368.8 L744.8 382.2 L746.4 382.2 L746.4 368.9 L748 368.9 L748 374.2 L749.6 374.2 L749.6 364.9 L751.2 364.9 L751.2 372.8 L752.8 372.8 L752.8 365.6 L754.4 365.6 L754.4 371.3 L756 371.3 L756 389.4 L757.6 389.4 L757.6 387.8 L759.2 387.8 L759.2 367.7 L760.8 367.7 L760.8 371.9 L762.4 371.9 L762.4 372.5 L764 372.5 L764 382.8 L765.6 382.8 L765.6 376.4 L767.2 376.4 L767.2 378.1 L768.8 378.1 L768.8 380.9 L770.4 380.9 L770.4 393 L772 393 L772 396.1 L773.6 396.1 L773.6 398.1 L775.2 398.1 L775.2 391.7 L776.8 391.7 L776.8 392.9 L778.4 392.9 L778.4 400.8 L780 400.8 L780 403.2 L781.6 403.2 L781.6 394.7 L783.2 394.7 L783.2 394.8 L784.8 394.8 L784.8 411.9 L786.4 411.9 L786.4 403 L788 403 L788 402.8 L789.6 402.8 L789.6 410.4 L791.2 410.4 L791.2 415.8 L792.8 415.8 L792.8 418.1 L794.4 418.1 L794.4 412.5 L796 412.5 L796 430.8 L797.6 430.8 L797.6 436.2 L799.2 436.2 L799.2 420.9 L800.8 420.9 L800.8 436 L802.4 436 L802.4 429.2 L804 429.2 L804 425.9 L805.6 425.9 L805.6 426.8 L807.2 426.8 L807.2 425.3 L808.8 425.3 L808.8 448.1 L810.4 448.1 L810.4 448.5 L812 448.5 L812 450.4 L813.6 450.4 L813.6 456.3 L815.2 456.3 L815.2 453.8 L816.8 453.8 L816.8 464.3 L818.4 464.3 L818.4 464.7 L820 464.7 L820 476.6 L821.6 476.6 L821.6 462.2 L823.2 462.2 L823.2 484.9 L824.8 484.9 L824.8 481.9 L826.4 481.9 L826.4 489.7 L828 489.7 L828 484.3 L829.6 484.3 L829.6 505.5 L831.2 505.5 L831.2 506.7 L832.8 506.7 L832.8 505.1 L834.4 505.1 L834.4 506.8 L836 506.8 L836 498.8 L837.6 498.8 L837.6 509.2 L839.2 509.2 L839.2 501.2 L840.8 501.2 L840.8 507.6 L842.4 507.6 L842.4 504.3 L844 504.3 L844 513.5 L845.6 513.5 L845.6 522.1 L847.2 522.1 L847.2 518 L848.8 518 L848.8 533.7 L850.4 533.7 L850.4 532.4 L852 532.4 L852 535.5 L853.6 535.5 L853.6 538.2 L855.2 538.2 L855.2 539.2 L856.8 539.2 L856.8 538.8 L858.4 538.8 L858.4 548.1 L860 548.1 L860 552.9 L861.6 552.9 L861.6 557.7 L863.2 557.7 L863.2 564.8 L864.8 564.8 L864.8 557.6 L866.4 557.6 L866.4 559.9 L868 559.9 L868 555.9 L869.6 555.9 L869.6 559.4 L871.2 559.4 L871.2 562.4 L872.8 562.4 L872.8 568.7 L874.4 568.7 L874.4 568 L876 568 L876 567.6 L877.6 567.6 L877.6 569.5 L879.2 569.5 L879.2 568.6 L880.8 568.6 L880.8 578.7 L882.4 578.7 L882.4 582.3 L884 582.3 L884 587.7 L885.6 587.7 L885.6 590.1 L887.2 590.1 L887.2 585.8 L888.8 585.8 L888.8 590.5 L890.4 590.5 L890.4 588.1 L892 588.1 L892 594.4 L893.6 594.4 L893.6 589.2 L895.2 589.2 L895.2 591.2 L896.8 591.2 L896.8 590.7 L898.4 590.7 L898.4 593.9 L900 593.9 L900 594.5 L901.6 594.5 L901.6 600.9 L903.2 600.9 L903.2 601.5 L904.8 601.5 L904.8 601 L906.4 601 L906.4 599.5 L908 599.5 L908 601.1 L909.6 601.1 L909.6 604.9 L911.2 604.9 L911.2 606.7 L912.8 606.7 L912.8 608.2 L914.4 608.2 L914.4 608.3 L916 608.3 L916 608.9 L917.6 608.9 L917.6 609 L919.2 609 L919.2 608.8 L920.8 608.8 L920.8 609.1 L922.4 609.1 L922.4 608.9 L924 608.9 L924 609.1 L925.6 609.1 L925.6 609.1 L927.2 609.1 L927.2 610.2 L928.8 610.2 L928.8 610.2 L930.4 610.2 L930.4 610.8 L932 610.8 L932 610.7 L933.6 610.7 L933.6 610.8 L935.2 610.8 L935.2 610.8 L936.8 610.8 L936.8 610.8 L938.4 610.8 L938.4 610.8 L940 610.8 L940 610.8 L941.6 610.8 L941.6 610.8 L943.2 610.8 L943.2 610.8 L944.8 610.8 L944.8 610.8 L946.4 610.8 L946.4 610.8 L948 610.8 L948 610.8 L949.6 610.8 L949.6 610.8 L951.2 610.8 L951.2 610.8 L952.8 610.8 L952.8 610.8 L954.4 610.8 L954.4 610.8 L956 610.8 L956 610.8 L957.6 610.8 L957.6 610.8 L959.2 610.8 L959.2 610.8 L960.8 610.8 L960.8 610.8 L962.4 610.8 L962.4 610.8 L964 610.8 L964 610.8 L965.6 610.8 L965.6 610.8 L967.2 610.8 L967.2 610.8 L968.8 610.8 L968.8 610.8 L970.4 610.8 L970.4 610.8 L972 610.8 L972 610.8 L973.6 610.8 L973.6 610.8 L975.2 610.8 L975.2 610.8 L976.8 610.8 L976.8 610.8 L978.4 610.8 L978.4 610.8 L980 610.8 L980 610.8 L981.6 610.8 L981.6 610.8 L983.2 610.8 L983.2 610.8 L984.8 610.8 L984.8 610.8 L986.4 610.8 L986.4 610.8 L988 610.8 L988 610.8 L989.6 610.8 L989.6 610.8 L991.2 610.8 L991.2 610.8 L992.8 610.8 L992.8 610.8 L994.4 610.8 L994.4 610.8 L996 610.8 L996 610.8 L997.6 610.8 L997.6 610.8 L998 610.8 L998 610.8 Z" fill="#d07000" clip-path="url(#cpa-gray)"/>
<path d="M327.6 610.8 H449.8 M968.0 610.8 H998.0" fill="none" stroke="#ff9a3c" stroke-width="1.8"/>
<rect x="325.40000000000003" y="605.8" width="4.4" height="7" fill="#e06a08"/>
<path d="M448.8 610.8 L451.4 609.6 L454.1 609 L456.7 607.8 L458.7 607.2 L460.7 607.3 L462.7 607.4 L464.7 606.8 L466.7 602.2 L468.7 598.8 L471.6 599.4 L474.6 600.8 L476.6 595.9 L479.6 597.5 L482.5 599.8 L484.5 597.5 L486.5 595.1 L488.5 594.6 L490.5 591.9 L493.1 591.2 L495.8 589 L498.4 587.9 L500.9 586.1 L503.4 585.1 L505.8 582.4 L508.3 582 L511.3 586 L513.3 570.1 L515.8 566.7 L518.3 566.1 L520.9 565.4 L523.6 561.6 L526.2 560.2 L528.2 562.1 L530.2 564.1 L532.1 546.3 L534.6 542 L537.1 534.4 L539.4 531.7 L541.7 525 L544 520.5 L546 517.2 L548 515.6 L550 514.5 L553 504.6 L556.9 486.7 L559.9 476.8 L562.9 468.9 L563.9 449 L566.3 453.4 L568.8 453 L571.8 437.1 L574.3 430.6 L576.8 419.3 L579.2 409.4 L581.7 403.4 L584.2 400.7 L586.7 393.5 L589 391.2 L591.4 390.6 L593.7 389.5 L596.3 383.3 L599 384.2 L601.6 377.6 L604.2 382.4 L606.9 378.2 L609.5 381.6 L611.5 380.3 L613.5 375 L615.5 377.6 L617.5 372.7 L619.6 368.3 L621.8 367.4 L623.9 370.5 L626 367.7 L629.9 381.6 L631.9 378.8 L633.9 381.4 L635.9 379.7 L637.9 375.6 L640.5 378.4 L643.2 375.7 L645.8 379.6 L648.4 384.2 L651.1 389.2 L653.7 389.5 L655.7 388.5 L657.7 385.3 L659.7 387.5 L662.3 391.6 L665 398.2 L667.6 405.4 L670.1 405.3 L672.5 400.4 L675 398.8 L677.5 399.4 L679.5 395.2 L681.5 395.6 L683.5 393.9 L685.5 389.5 L688.5 381.6 L690.8 384.7 L693.1 390.6 L695.4 393.5 L697.9 395.1 L700.3 392.1 L702.8 388.7 L705.3 389.5 L707.3 383.2 L709.3 379.6 L712.2 380.6 L715.2 375.6 L717.5 374.1 L719.9 368.8 L722.2 367.7 L724.5 367.7 L726.8 362.8 L729.1 364.7 L731.6 370.9 L734 369.7 L736.5 373.1 L739 375.6 L741 371.5 L743 363.6 L745 363.2 L747 356.6 L749 353.8 L751.6 357.3 L754.3 366.6 L756.9 369.7 L758.9 362.8 L760.9 360.2 L762.9 357.8 L766.8 371.7 L768.8 378.1 L770.8 379.2 L772.8 385.6 L775.8 386 L778.7 389.5 L780.7 390.6 L782.7 389 L784.7 394.6 L786.7 396 L788.7 393.5 L791.7 398.4 L794.6 409.4 L797.2 411.8 L799.9 416.3 L802.5 417.3 L804.5 418.5 L806.5 423.9 L808.5 423.2 L810.5 425.2 L813.1 430.6 L815.8 440.1 L818.4 447.1 L821 451.9 L823.7 454.2 L826.3 459 L828.3 469.8 L830.3 478.8 L832.3 482.7 L834.3 483.8 L836.3 486.3 L838.3 488.7 L841.2 498.3 L844.2 504.6 L846.2 509.4 L848.2 512.6 L850.2 516.5 L854.1 528.4 L856.1 532.2 L858.1 532.4 L861 539.1 L864 548.3 L866 550.6 L868 549.7 L870 552.2 L872 559.5 L874 566.1 L877 563.3 L879.9 562.1 L881.9 570.9 L883.9 580 L886.5 582.7 L889.2 584.7 L891.8 586 L893.8 586.7 L895.8 585.4 L897.8 586 L900.8 591.9 L903.7 597.9 L905.7 596.4 L907.7 595.9 L909.7 600 L911.7 603.8 L914.7 605.3 L917.6 606.8 L919.6 606 L921.6 606.2 L923.6 605.8 L926.5 607 L929.5 607.8 L931.9 608.1 L934.3 608.5 L936.6 608.2 L939 608.4 L941.4 608.8 L943.7 608.7 L945.9 609.2 L948.2 609.4 L950.5 609.6 L952.8 609.7 L955 610.1 L957.3 610.2 L959.5 610.1 L961.7 610.5 L963.9 610.4 L966.1 610.5 L968.3 610.6 L970.5 610.5 L972.7 610.6 L974.9 610.7 L977.1 610.8 L979.5 610.9 L981.9 611 L984.2 611.1 L986.6 611.2 L989 611.3 L991.2 610.9 L993.5 610.6 L995.8 610 L998 609.8" fill="none" stroke="#ff8004" stroke-width="2.6" stroke-linejoin="round"/>
<path d="M450.8 744.8 L450.8 744.7 L453.1 743.9 L455.4 742.5 L457.8 741.5 L460.1 740.4 L462.4 739.9 L464.7 738.7 L467 738.4 L469.3 737.8 L471.6 736.2 L474 736 L476.3 735.3 L478.6 734.8 L481.1 730.8 L483.5 727.8 L486 729.2 L488.5 728.8 L491.1 725.6 L493.8 724.2 L496.4 721.9 L498.4 720.8 L500.4 719.7 L502.4 716.9 L506.3 703 L508.3 704 L510.3 707 L513 703.6 L515.6 701.1 L518.3 697.1 L521.2 694.6 L524.2 695.1 L526.5 692.6 L528.9 693.1 L531.2 690.1 L535.1 693.1 L538.1 681.2 L541 675.9 L544 673.3 L546 668.9 L548 665.3 L550 656.5 L552 649.4 L554 643.1 L556 637.5 L559.9 631.6 L561.9 623.5 L563.9 619.7 L565.9 615.3 L567.9 615.7 L570.3 616.8 L572.8 612.7 L575.8 595.9 L578.8 580 L580.8 566.1 L583.2 567.7 L585.7 566.1 L588.7 570.1 L591.7 552.2 L594.7 552.7 L597.6 550.2 L599.6 547.5 L601.6 548.3 L604 536.7 L606.5 528.4 L609 535.7 L611.5 542.3 L613.5 541.6 L615.5 544.3 L619.4 530.4 L621.4 535.1 L623.4 540.3 L625.6 538.2 L627.9 530.4 L629.9 536.8 L631.9 543.9 L633.9 552.2 L636.8 557.2 L639.8 556.2 L641.8 555.6 L643.8 550.6 L645.8 552.2 L648.8 554.6 L651.7 558.2 L653.7 557.8 L655.7 552.8 L657.7 554.2 L659.7 553.9 L661.7 556.8 L663.7 556.2 L666.7 554.6 L669.6 548.3 L672.2 555.5 L674.9 563.9 L677.5 568.1 L679.5 563.9 L681.5 559.5 L683.5 558.3 L685.5 552.2 L688.1 552.8 L690.8 556.6 L693.4 556.2 L695.4 556.4 L697.4 559.2 L699.4 562.1 L702.3 556.2 L705.3 554.2 L707.3 556.5 L709.3 556.1 L711.3 558.3 L713.3 562.1 L716.2 556.4 L719.2 554.2 L721.2 548.7 L723.2 542.4 L725.2 538.3 L728.2 542 L731.1 546.3 L733.7 548.5 L736.4 545.5 L739 543.3 L741 545 L743 540.2 L745 540.7 L747 538.1 L749 540.3 L751.6 540.2 L754.3 536.7 L756.9 536.3 L758.9 528.8 L760.9 524.4 L763.8 515.2 L766.8 512.5 L768.8 509.3 L770.8 508.9 L772.8 509.6 L775.4 508.5 L778.1 511.9 L780.7 508.6 L783.2 501.2 L785.7 490.7 L788.2 498 L790.6 508.6 L792.6 502.7 L794.6 498.7 L796.6 493.5 L798.6 496.5 L800.6 490.7 L803.2 489 L805.9 491.3 L808.5 488.7 L811.5 491.3 L814.4 490.7 L816.4 500.6 L818.4 504.6 L820.4 497.2 L822.4 496.7 L825.3 501.4 L828.3 508.6 L830.3 510.7 L832.3 514.5 L834.3 509.6 L836.3 513.2 L838.3 508.6 L841.2 506.4 L844.2 506.6 L846.2 509.2 L848.2 508.1 L850.2 508.6 L852.1 528.4 L854.1 530.8 L856.1 538.3 L858.1 544.3 L861 547.6 L864 554.2 L866 552.7 L868 554.7 L870 558.2 L872 566.7 L874 574 L877.9 597.9 L879.9 597.3 L881.9 600.8 L883.9 603.8 L885.9 613.7 L887.9 629.6 L890.8 637.2 L893.8 645.5 L895.8 652.3 L897.8 657.2 L899.8 665.3 L902.8 669.1 L905.7 671.3 L907.7 678.3 L909.7 687.1 L911.7 695.8 L913.7 703 L916.2 705 L918.7 705 L921.1 706.7 L923.6 709 L926.2 711.1 L928.9 714.8 L931.5 716.9 L933.5 719.3 L935.5 721.9 L937.5 724.8 L940.1 729.4 L942.8 732.3 L945.4 736.7 L947.8 736.8 L950.2 737.3 L952.5 737.6 L954.9 737.8 L957.3 738.7 L959.3 737.1 L961.3 736.7 L965.2 744.7 L967.2 744.2 L969.2 743.7 L971.2 743.4 L973.2 742.7 L977.1 745.7 L979.1 745.5 L981.1 745.3 L983.1 745.1 L985.1 744.9 L987.1 744.7 L989.3 744 L991.5 743.6 L993.6 743 L995.8 742.6 L998 741.7 L998 744.8 Z" fill="#00ff08"/>
<path d="M450.8 744.8 L450.8 744.8 L452.4 744.8 L452.4 744.8 L454 744.8 L454 744.8 L455.6 744.8 L455.6 744.8 L457.2 744.8 L457.2 744.2 L458.8 744.2 L458.8 743.6 L460.4 743.6 L460.4 742.7 L462 742.7 L462 742.2 L463.6 742.2 L463.6 742.5 L465.2 742.5 L465.2 740.7 L466.8 740.7 L466.8 740.4 L468.4 740.4 L468.4 741.3 L470 741.3 L470 741 L471.6 741 L471.6 739.3 L473.2 739.3 L473.2 739.4 L474.8 739.4 L474.8 738.5 L476.4 738.5 L476.4 738.5 L478 738.5 L478 738.8 L479.6 738.8 L479.6 738.2 L481.2 738.2 L481.2 733.5 L482.8 733.5 L482.8 733.6 L484.4 733.6 L484.4 734.7 L486 734.7 L486 732.6 L487.6 732.6 L487.6 732.6 L489.2 732.6 L489.2 733 L490.8 733 L490.8 728.6 L492.4 728.6 L492.4 727.3 L494 727.3 L494 728 L495.6 728 L495.6 727.3 L497.2 727.3 L497.2 724.2 L498.8 724.2 L498.8 725.4 L500.4 725.4 L500.4 720.5 L502 720.5 L502 720.6 L503.6 720.6 L503.6 712.4 L505.2 712.4 L505.2 707.9 L506.8 707.9 L506.8 710.7 L508.4 710.7 L508.4 709.9 L510 709.9 L510 709.5 L511.6 709.5 L511.6 708.9 L513.2 708.9 L513.2 709.8 L514.8 709.8 L514.8 703.4 L516.4 703.4 L516.4 705.5 L518 705.5 L518 703 L519.6 703 L519.6 705.2 L521.2 705.2 L521.2 707.5 L522.8 707.5 L522.8 701.8 L524.4 701.8 L524.4 705 L526 705 L526 698.5 L527.6 698.5 L527.6 697.9 L529.2 697.9 L529.2 702.4 L530.8 702.4 L530.8 701.5 L532.4 701.5 L532.4 696 L534 696 L534 698 L535.6 698 L535.6 693.3 L537.2 693.3 L537.2 687.5 L538.8 687.5 L538.8 685.1 L540.4 685.1 L540.4 683.5 L542 683.5 L542 683.4 L543.6 683.4 L543.6 679 L545.2 679 L545.2 678.6 L546.8 678.6 L546.8 669.8 L548.4 669.8 L548.4 670.3 L550 670.3 L550 665.8 L551.6 665.8 L551.6 653.3 L553.2 653.3 L553.2 648.9 L554.8 648.9 L554.8 644.5 L556.4 644.5 L556.4 641.7 L558 641.7 L558 642.4 L559.6 642.4 L559.6 639.9 L561.2 639.9 L561.2 628.1 L562.8 628.1 L562.8 628.1 L564.4 628.1 L564.4 628.6 L566 628.6 L566 619.6 L567.6 619.6 L567.6 623.5 L569.2 623.5 L569.2 623.9 L570.8 623.9 L570.8 616.3 L572.4 616.3 L572.4 614 L574 614 L574 611.9 L575.6 611.9 L575.6 602.1 L577.2 602.1 L577.2 589 L578.8 589 L578.8 583.4 L580.4 583.4 L580.4 572.8 L582 572.8 L582 575.1 L583.6 575.1 L583.6 571.6 L585.2 571.6 L585.2 577.5 L586.8 577.5 L586.8 576.7 L588.4 576.7 L588.4 573.6 L590 573.6 L590 564.4 L591.6 564.4 L591.6 563.1 L593.2 563.1 L593.2 565.5 L594.8 565.5 L594.8 558.1 L596.4 558.1 L596.4 563.2 L598 563.2 L598 565.4 L599.6 565.4 L599.6 563.8 L601.2 563.8 L601.2 562.1 L602.8 562.1 L602.8 556.5 L604.4 556.5 L604.4 550.8 L606 550.8 L606 543.4 L607.6 543.4 L607.6 552.6 L609.2 552.6 L609.2 559.4 L610.8 559.4 L610.8 553.4 L612.4 553.4 L612.4 548.2 L614 548.2 L614 562.7 L615.6 562.7 L615.6 566 L617.2 566 L617.2 540.6 L618.8 540.6 L618.8 536.8 L620.4 536.8 L620.4 545.2 L622 545.2 L622 546.4 L623.6 546.4 L623.6 541.7 L625.2 541.7 L625.2 544.8 L626.8 544.8 L626.8 536 L628.4 536 L628.4 555.4 L630 555.4 L630 547.8 L631.6 547.8 L631.6 550.5 L633.2 550.5 L633.2 567.3 L634.8 567.3 L634.8 572.3 L636.4 572.3 L636.4 557.5 L638 557.5 L638 560.4 L639.6 560.4 L639.6 562.8 L641.2 562.8 L641.2 562.6 L642.8 562.6 L642.8 573.5 L644.4 573.5 L644.4 569.2 L646 569.2 L646 560.4 L647.6 560.4 L647.6 561.1 L649.2 561.1 L649.2 561.9 L650.8 561.9 L650.8 576.1 L652.4 576.1 L652.4 565.4 L654 565.4 L654 569.4 L655.6 569.4 L655.6 569.4 L657.2 569.4 L657.2 562.7 L658.8 562.7 L658.8 580.8 L660.4 580.8 L660.4 582.1 L662 582.1 L662 570.7 L663.6 570.7 L663.6 580.6 L665.2 580.6 L665.2 566.3 L666.8 566.3 L666.8 557.9 L668.4 557.9 L668.4 566.3 L670 566.3 L670 566.2 L671.6 566.2 L671.6 563.2 L673.2 563.2 L673.2 569.6 L674.8 569.6 L674.8 569.6 L676.4 569.6 L676.4 585.8 L678 585.8 L678 578.1 L679.6 578.1 L679.6 568 L681.2 568 L681.2 565.4 L682.8 565.4 L682.8 561.3 L684.4 561.3 L684.4 562.1 L686 562.1 L686 561.4 L687.6 561.4 L687.6 557.4 L689.2 557.4 L689.2 558.2 L690.8 558.2 L690.8 560.7 L692.4 560.7 L692.4 560.9 L694 560.9 L694 568.4 L695.6 568.4 L695.6 572.1 L697.2 572.1 L697.2 580.4 L698.8 580.4 L698.8 568.2 L700.4 568.2 L700.4 564.3 L702 564.3 L702 573.5 L703.6 573.5 L703.6 557.7 L705.2 557.7 L705.2 571.8 L706.8 571.8 L706.8 578.4 L708.4 578.4 L708.4 561.9 L710 561.9 L710 567.7 L711.6 567.7 L711.6 580.4 L713.2 580.4 L713.2 571.1 L714.8 571.1 L714.8 568.8 L716.4 568.8 L716.4 575.5 L718 575.5 L718 566.6 L719.6 566.6 L719.6 559.7 L721.2 559.7 L721.2 567.3 L722.8 567.3 L722.8 553.9 L724.4 553.9 L724.4 562 L726 562 L726 555.9 L727.6 555.9 L727.6 547.8 L729.2 547.8 L729.2 555.4 L730.8 555.4 L730.8 556.4 L732.4 556.4 L732.4 556 L734 556 L734 550 L735.6 550 L735.6 549.4 L737.2 549.4 L737.2 546.6 L738.8 546.6 L738.8 549.3 L740.4 549.3 L740.4 551.2 L742 551.2 L742 547.4 L743.6 547.4 L743.6 549.9 L745.2 549.9 L745.2 546.7 L746.8 546.7 L746.8 546.9 L748.4 546.9 L748.4 551.2 L750 551.2 L750 549 L751.6 549 L751.6 541 L753.2 541 L753.2 544.1 L754.8 544.1 L754.8 547.3 L756.4 547.3 L756.4 540.1 L758 540.1 L758 538.4 L759.6 538.4 L759.6 528.3 L761.2 528.3 L761.2 537.3 L762.8 537.3 L762.8 531.4 L764.4 531.4 L764.4 523.3 L766 523.3 L766 517.1 L767.6 517.1 L767.6 517.1 L769.2 517.1 L769.2 517.8 L770.8 517.8 L770.8 515.2 L772.4 515.2 L772.4 515.1 L774 515.1 L774 517.4 L775.6 517.4 L775.6 513.5 L777.2 513.5 L777.2 517.6 L778.8 517.6 L778.8 513.7 L780.4 513.7 L780.4 517.6 L782 517.6 L782 508.2 L783.6 508.2 L783.6 501.5 L785.2 501.5 L785.2 504.7 L786.8 504.7 L786.8 500.9 L788.4 500.9 L788.4 507.3 L790 507.3 L790 516.3 L791.6 516.3 L791.6 512.6 L793.2 512.6 L793.2 503.8 L794.8 503.8 L794.8 503 L796.4 503 L796.4 506 L798 506 L798 496.5 L799.6 496.5 L799.6 496.2 L801.2 496.2 L801.2 494.6 L802.8 494.6 L802.8 495.6 L804.4 495.6 L804.4 492.3 L806 492.3 L806 499.6 L807.6 499.6 L807.6 494.6 L809.2 494.6 L809.2 497.2 L810.8 497.2 L810.8 498.9 L812.4 498.9 L812.4 500 L814 500 L814 497.6 L815.6 497.6 L815.6 503.3 L817.2 503.3 L817.2 505.6 L818.8 505.6 L818.8 507.8 L820.4 507.8 L820.4 507.4 L822 507.4 L822 513.4 L823.6 513.4 L823.6 514.2 L825.2 514.2 L825.2 516.5 L826.8 516.5 L826.8 509.7 L828.4 509.7 L828.4 516.7 L830 516.7 L830 523.7 L831.6 523.7 L831.6 517.9 L833.2 517.9 L833.2 520.1 L834.8 520.1 L834.8 525 L836.4 525 L836.4 524 L838 524 L838 519.3 L839.6 519.3 L839.6 512.1 L841.2 512.1 L841.2 527.2 L842.8 527.2 L842.8 519.2 L844.4 519.2 L844.4 515.5 L846 515.5 L846 518.9 L847.6 518.9 L847.6 519.4 L849.2 519.4 L849.2 523.8 L850.8 523.8 L850.8 531.8 L852.4 531.8 L852.4 542.7 L854 542.7 L854 541.1 L855.6 541.1 L855.6 560.1 L857.2 560.1 L857.2 557.8 L858.8 557.8 L858.8 552.3 L860.4 552.3 L860.4 554.3 L862 554.3 L862 560.9 L863.6 560.9 L863.6 564.6 L865.2 564.6 L865.2 561.3 L866.8 561.3 L866.8 565.2 L868.4 565.2 L868.4 568.3 L870 568.3 L870 565.6 L871.6 565.6 L871.6 588.8 L873.2 588.8 L873.2 587.8 L874.8 587.8 L874.8 592.7 L876.4 592.7 L876.4 602.7 L878 602.7 L878 607.8 L879.6 607.8 L879.6 610.6 L881.2 610.6 L881.2 612.9 L882.8 612.9 L882.8 612.8 L884.4 612.8 L884.4 617.3 L886 617.3 L886 629.5 L887.6 629.5 L887.6 635.1 L889.2 635.1 L889.2 643.8 L890.8 643.8 L890.8 643.3 L892.4 643.3 L892.4 652.3 L894 652.3 L894 652.2 L895.6 652.2 L895.6 659.9 L897.2 659.9 L897.2 662 L898.8 662 L898.8 667.8 L900.4 667.8 L900.4 674.2 L902 674.2 L902 675.5 L903.6 675.5 L903.6 675.5 L905.2 675.5 L905.2 678 L906.8 678 L906.8 684.4 L908.4 684.4 L908.4 688.9 L910 688.9 L910 695.9 L911.6 695.9 L911.6 700.2 L913.2 700.2 L913.2 706.3 L914.8 706.3 L914.8 708.6 L916.4 708.6 L916.4 708 L918 708 L918 710.5 L919.6 710.5 L919.6 709.9 L921.2 709.9 L921.2 712.2 L922.8 712.2 L922.8 712.2 L924.4 712.2 L924.4 714.1 L926 714.1 L926 716.8 L927.6 716.8 L927.6 716.2 L929.2 716.2 L929.2 719.9 L930.8 719.9 L930.8 721.4 L932.4 721.4 L932.4 722.6 L934 722.6 L934 724.4 L935.6 724.4 L935.6 726.3 L937.2 726.3 L937.2 729.2 L938.8 729.2 L938.8 731.6 L940.4 731.6 L940.4 733.8 L942 733.8 L942 735.7 L943.6 735.7 L943.6 739.1 L945.2 739.1 L945.2 740.5 L946.8 740.5 L946.8 740 L948.4 740 L948.4 740.3 L950 740.3 L950 741.4 L951.6 741.4 L951.6 741 L953.2 741 L953.2 741.2 L954.8 741.2 L954.8 741.3 L956.4 741.3 L956.4 741.5 L958 741.5 L958 740.3 L959.6 740.3 L959.6 741.1 L961.2 741.1 L961.2 742.3 L962.8 742.3 L962.8 744.4 L964.4 744.4 L964.4 744.8 L966 744.8 L966 744.8 L967.6 744.8 L967.6 744.8 L969.2 744.8 L969.2 744.8 L970.8 744.8 L970.8 744.8 L972.4 744.8 L972.4 744.8 L974 744.8 L974 744.8 L975.6 744.8 L975.6 744.8 L977.2 744.8 L977.2 744.8 L978.8 744.8 L978.8 744.8 L980.4 744.8 L980.4 744.8 L982 744.8 L982 744.8 L983.6 744.8 L983.6 744.8 L985.2 744.8 L985.2 744.8 L986.8 744.8 L986.8 744.8 L988.4 744.8 L988.4 744.8 L990 744.8 L990 744.8 L991.6 744.8 L991.6 744.8 L993.2 744.8 L993.2 744.8 L994.8 744.8 L994.8 744.8 L996.4 744.8 L996.4 744.8 L998 744.8 L998 744.8 Z" fill="#00ff44"/>
<path d="M450.8 744.8 L450.8 744.8 L452.4 744.8 L452.4 744.8 L454 744.8 L454 744.8 L455.6 744.8 L455.6 744.8 L457.2 744.8 L457.2 744.2 L458.8 744.2 L458.8 743.6 L460.4 743.6 L460.4 742.7 L462 742.7 L462 742.2 L463.6 742.2 L463.6 742.5 L465.2 742.5 L465.2 740.7 L466.8 740.7 L466.8 740.4 L468.4 740.4 L468.4 741.3 L470 741.3 L470 741 L471.6 741 L471.6 739.3 L473.2 739.3 L473.2 739.4 L474.8 739.4 L474.8 738.5 L476.4 738.5 L476.4 738.5 L478 738.5 L478 738.8 L479.6 738.8 L479.6 738.2 L481.2 738.2 L481.2 733.5 L482.8 733.5 L482.8 733.6 L484.4 733.6 L484.4 734.7 L486 734.7 L486 732.6 L487.6 732.6 L487.6 732.6 L489.2 732.6 L489.2 733 L490.8 733 L490.8 728.6 L492.4 728.6 L492.4 727.3 L494 727.3 L494 728 L495.6 728 L495.6 727.3 L497.2 727.3 L497.2 724.2 L498.8 724.2 L498.8 725.4 L500.4 725.4 L500.4 720.5 L502 720.5 L502 720.6 L503.6 720.6 L503.6 712.4 L505.2 712.4 L505.2 707.9 L506.8 707.9 L506.8 710.7 L508.4 710.7 L508.4 709.9 L510 709.9 L510 709.5 L511.6 709.5 L511.6 708.9 L513.2 708.9 L513.2 709.8 L514.8 709.8 L514.8 703.4 L516.4 703.4 L516.4 705.5 L518 705.5 L518 703 L519.6 703 L519.6 705.2 L521.2 705.2 L521.2 707.5 L522.8 707.5 L522.8 701.8 L524.4 701.8 L524.4 705 L526 705 L526 698.5 L527.6 698.5 L527.6 697.9 L529.2 697.9 L529.2 702.4 L530.8 702.4 L530.8 701.5 L532.4 701.5 L532.4 696 L534 696 L534 698 L535.6 698 L535.6 693.3 L537.2 693.3 L537.2 687.5 L538.8 687.5 L538.8 685.1 L540.4 685.1 L540.4 683.5 L542 683.5 L542 683.4 L543.6 683.4 L543.6 679 L545.2 679 L545.2 678.6 L546.8 678.6 L546.8 669.8 L548.4 669.8 L548.4 670.3 L550 670.3 L550 665.8 L551.6 665.8 L551.6 653.3 L553.2 653.3 L553.2 648.9 L554.8 648.9 L554.8 644.5 L556.4 644.5 L556.4 641.7 L558 641.7 L558 642.4 L559.6 642.4 L559.6 639.9 L561.2 639.9 L561.2 628.1 L562.8 628.1 L562.8 628.1 L564.4 628.1 L564.4 628.6 L566 628.6 L566 619.6 L567.6 619.6 L567.6 623.5 L569.2 623.5 L569.2 623.9 L570.8 623.9 L570.8 616.3 L572.4 616.3 L572.4 614 L574 614 L574 611.9 L575.6 611.9 L575.6 602.1 L577.2 602.1 L577.2 589 L578.8 589 L578.8 583.4 L580.4 583.4 L580.4 572.8 L582 572.8 L582 575.1 L583.6 575.1 L583.6 571.6 L585.2 571.6 L585.2 577.5 L586.8 577.5 L586.8 576.7 L588.4 576.7 L588.4 573.6 L590 573.6 L590 564.4 L591.6 564.4 L591.6 563.1 L593.2 563.1 L593.2 565.5 L594.8 565.5 L594.8 558.1 L596.4 558.1 L596.4 563.2 L598 563.2 L598 565.4 L599.6 565.4 L599.6 563.8 L601.2 563.8 L601.2 562.1 L602.8 562.1 L602.8 556.5 L604.4 556.5 L604.4 550.8 L606 550.8 L606 543.4 L607.6 543.4 L607.6 552.6 L609.2 552.6 L609.2 559.4 L610.8 559.4 L610.8 553.4 L612.4 553.4 L612.4 548.2 L614 548.2 L614 562.7 L615.6 562.7 L615.6 566 L617.2 566 L617.2 540.6 L618.8 540.6 L618.8 536.8 L620.4 536.8 L620.4 545.2 L622 545.2 L622 546.4 L623.6 546.4 L623.6 541.7 L625.2 541.7 L625.2 544.8 L626.8 544.8 L626.8 536 L628.4 536 L628.4 555.4 L630 555.4 L630 547.8 L631.6 547.8 L631.6 550.5 L633.2 550.5 L633.2 567.3 L634.8 567.3 L634.8 572.3 L636.4 572.3 L636.4 557.5 L638 557.5 L638 560.4 L639.6 560.4 L639.6 562.8 L641.2 562.8 L641.2 562.6 L642.8 562.6 L642.8 573.5 L644.4 573.5 L644.4 569.2 L646 569.2 L646 560.4 L647.6 560.4 L647.6 561.1 L649.2 561.1 L649.2 561.9 L650.8 561.9 L650.8 576.1 L652.4 576.1 L652.4 565.4 L654 565.4 L654 569.4 L655.6 569.4 L655.6 569.4 L657.2 569.4 L657.2 562.7 L658.8 562.7 L658.8 580.8 L660.4 580.8 L660.4 582.1 L662 582.1 L662 570.7 L663.6 570.7 L663.6 580.6 L665.2 580.6 L665.2 566.3 L666.8 566.3 L666.8 557.9 L668.4 557.9 L668.4 566.3 L670 566.3 L670 566.2 L671.6 566.2 L671.6 563.2 L673.2 563.2 L673.2 569.6 L674.8 569.6 L674.8 569.6 L676.4 569.6 L676.4 585.8 L678 585.8 L678 578.1 L679.6 578.1 L679.6 568 L681.2 568 L681.2 565.4 L682.8 565.4 L682.8 561.3 L684.4 561.3 L684.4 562.1 L686 562.1 L686 561.4 L687.6 561.4 L687.6 557.4 L689.2 557.4 L689.2 558.2 L690.8 558.2 L690.8 560.7 L692.4 560.7 L692.4 560.9 L694 560.9 L694 568.4 L695.6 568.4 L695.6 572.1 L697.2 572.1 L697.2 580.4 L698.8 580.4 L698.8 568.2 L700.4 568.2 L700.4 564.3 L702 564.3 L702 573.5 L703.6 573.5 L703.6 557.7 L705.2 557.7 L705.2 571.8 L706.8 571.8 L706.8 578.4 L708.4 578.4 L708.4 561.9 L710 561.9 L710 567.7 L711.6 567.7 L711.6 580.4 L713.2 580.4 L713.2 571.1 L714.8 571.1 L714.8 568.8 L716.4 568.8 L716.4 575.5 L718 575.5 L718 566.6 L719.6 566.6 L719.6 559.7 L721.2 559.7 L721.2 567.3 L722.8 567.3 L722.8 553.9 L724.4 553.9 L724.4 562 L726 562 L726 555.9 L727.6 555.9 L727.6 547.8 L729.2 547.8 L729.2 555.4 L730.8 555.4 L730.8 556.4 L732.4 556.4 L732.4 556 L734 556 L734 550 L735.6 550 L735.6 549.4 L737.2 549.4 L737.2 546.6 L738.8 546.6 L738.8 549.3 L740.4 549.3 L740.4 551.2 L742 551.2 L742 547.4 L743.6 547.4 L743.6 549.9 L745.2 549.9 L745.2 546.7 L746.8 546.7 L746.8 546.9 L748.4 546.9 L748.4 551.2 L750 551.2 L750 549 L751.6 549 L751.6 541 L753.2 541 L753.2 544.1 L754.8 544.1 L754.8 547.3 L756.4 547.3 L756.4 540.1 L758 540.1 L758 538.4 L759.6 538.4 L759.6 528.3 L761.2 528.3 L761.2 537.3 L762.8 537.3 L762.8 531.4 L764.4 531.4 L764.4 523.3 L766 523.3 L766 517.1 L767.6 517.1 L767.6 517.1 L769.2 517.1 L769.2 517.8 L770.8 517.8 L770.8 515.2 L772.4 515.2 L772.4 515.1 L774 515.1 L774 517.4 L775.6 517.4 L775.6 513.5 L777.2 513.5 L777.2 517.6 L778.8 517.6 L778.8 513.7 L780.4 513.7 L780.4 517.6 L782 517.6 L782 508.2 L783.6 508.2 L783.6 501.5 L785.2 501.5 L785.2 504.7 L786.8 504.7 L786.8 500.9 L788.4 500.9 L788.4 507.3 L790 507.3 L790 516.3 L791.6 516.3 L791.6 512.6 L793.2 512.6 L793.2 503.8 L794.8 503.8 L794.8 503 L796.4 503 L796.4 506 L798 506 L798 496.5 L799.6 496.5 L799.6 496.2 L801.2 496.2 L801.2 494.6 L802.8 494.6 L802.8 495.6 L804.4 495.6 L804.4 492.3 L806 492.3 L806 499.6 L807.6 499.6 L807.6 494.6 L809.2 494.6 L809.2 497.2 L810.8 497.2 L810.8 498.9 L812.4 498.9 L812.4 500 L814 500 L814 497.6 L815.6 497.6 L815.6 503.3 L817.2 503.3 L817.2 505.6 L818.8 505.6 L818.8 507.8 L820.4 507.8 L820.4 507.4 L822 507.4 L822 513.4 L823.6 513.4 L823.6 514.2 L825.2 514.2 L825.2 516.5 L826.8 516.5 L826.8 509.7 L828.4 509.7 L828.4 516.7 L830 516.7 L830 523.7 L831.6 523.7 L831.6 517.9 L833.2 517.9 L833.2 520.1 L834.8 520.1 L834.8 525 L836.4 525 L836.4 524 L838 524 L838 519.3 L839.6 519.3 L839.6 512.1 L841.2 512.1 L841.2 527.2 L842.8 527.2 L842.8 519.2 L844.4 519.2 L844.4 515.5 L846 515.5 L846 518.9 L847.6 518.9 L847.6 519.4 L849.2 519.4 L849.2 523.8 L850.8 523.8 L850.8 531.8 L852.4 531.8 L852.4 542.7 L854 542.7 L854 541.1 L855.6 541.1 L855.6 560.1 L857.2 560.1 L857.2 557.8 L858.8 557.8 L858.8 552.3 L860.4 552.3 L860.4 554.3 L862 554.3 L862 560.9 L863.6 560.9 L863.6 564.6 L865.2 564.6 L865.2 561.3 L866.8 561.3 L866.8 565.2 L868.4 565.2 L868.4 568.3 L870 568.3 L870 565.6 L871.6 565.6 L871.6 588.8 L873.2 588.8 L873.2 587.8 L874.8 587.8 L874.8 592.7 L876.4 592.7 L876.4 602.7 L878 602.7 L878 607.8 L879.6 607.8 L879.6 610.6 L881.2 610.6 L881.2 612.9 L882.8 612.9 L882.8 612.8 L884.4 612.8 L884.4 617.3 L886 617.3 L886 629.5 L887.6 629.5 L887.6 635.1 L889.2 635.1 L889.2 643.8 L890.8 643.8 L890.8 643.3 L892.4 643.3 L892.4 652.3 L894 652.3 L894 652.2 L895.6 652.2 L895.6 659.9 L897.2 659.9 L897.2 662 L898.8 662 L898.8 667.8 L900.4 667.8 L900.4 674.2 L902 674.2 L902 675.5 L903.6 675.5 L903.6 675.5 L905.2 675.5 L905.2 678 L906.8 678 L906.8 684.4 L908.4 684.4 L908.4 688.9 L910 688.9 L910 695.9 L911.6 695.9 L911.6 700.2 L913.2 700.2 L913.2 706.3 L914.8 706.3 L914.8 708.6 L916.4 708.6 L916.4 708 L918 708 L918 710.5 L919.6 710.5 L919.6 709.9 L921.2 709.9 L921.2 712.2 L922.8 712.2 L922.8 712.2 L924.4 712.2 L924.4 714.1 L926 714.1 L926 716.8 L927.6 716.8 L927.6 716.2 L929.2 716.2 L929.2 719.9 L930.8 719.9 L930.8 721.4 L932.4 721.4 L932.4 722.6 L934 722.6 L934 724.4 L935.6 724.4 L935.6 726.3 L937.2 726.3 L937.2 729.2 L938.8 729.2 L938.8 731.6 L940.4 731.6 L940.4 733.8 L942 733.8 L942 735.7 L943.6 735.7 L943.6 739.1 L945.2 739.1 L945.2 740.5 L946.8 740.5 L946.8 740 L948.4 740 L948.4 740.3 L950 740.3 L950 741.4 L951.6 741.4 L951.6 741 L953.2 741 L953.2 741.2 L954.8 741.2 L954.8 741.3 L956.4 741.3 L956.4 741.5 L958 741.5 L958 740.3 L959.6 740.3 L959.6 741.1 L961.2 741.1 L961.2 742.3 L962.8 742.3 L962.8 744.4 L964.4 744.4 L964.4 744.8 L966 744.8 L966 744.8 L967.6 744.8 L967.6 744.8 L969.2 744.8 L969.2 744.8 L970.8 744.8 L970.8 744.8 L972.4 744.8 L972.4 744.8 L974 744.8 L974 744.8 L975.6 744.8 L975.6 744.8 L977.2 744.8 L977.2 744.8 L978.8 744.8 L978.8 744.8 L980.4 744.8 L980.4 744.8 L982 744.8 L982 744.8 L983.6 744.8 L983.6 744.8 L985.2 744.8 L985.2 744.8 L986.8 744.8 L986.8 744.8 L988.4 744.8 L988.4 744.8 L990 744.8 L990 744.8 L991.6 744.8 L991.6 744.8 L993.2 744.8 L993.2 744.8 L994.8 744.8 L994.8 744.8 L996.4 744.8 L996.4 744.8 L998 744.8 L998 744.8 Z" fill="#00e400" clip-path="url(#cpa-orange)"/>
<rect x="327.6" y="737.4" width="670.4" height="4.4" fill="#10c840" clip-path="url(#cpa-green)"/>
<line x1="325.20000000000005" y1="744.8" x2="1000.4" y2="744.8" stroke="#30f040" stroke-width="3.8"/>
<path d="M450.8 744.7 L453.1 743.9 L455.4 742.5 L457.8 741.5 L460.1 740.4 L462.4 739.9 L464.7 738.7 L467 738.4 L469.3 737.8 L471.6 736.2 L474 736 L476.3 735.3 L478.6 734.8 L481.1 730.8 L483.5 727.8 L486 729.2 L488.5 728.8 L491.1 725.6 L493.8 724.2 L496.4 721.9 L498.4 720.8 L500.4 719.7 L502.4 716.9 L506.3 703 L508.3 704 L510.3 707 L513 703.6 L515.6 701.1 L518.3 697.1 L521.2 694.6 L524.2 695.1 L526.5 692.6 L528.9 693.1 L531.2 690.1 L535.1 693.1 L538.1 681.2 L541 675.9 L544 673.3 L546 668.9 L548 665.3 L550 656.5 L552 649.4 L554 643.1 L556 637.5 L559.9 631.6 L561.9 623.5 L563.9 619.7 L565.9 615.3 L567.9 615.7 L570.3 616.8 L572.8 612.7 L575.8 595.9 L578.8 580 L580.8 566.1 L583.2 567.7 L585.7 566.1 L588.7 570.1 L591.7 552.2 L594.7 552.7 L597.6 550.2 L599.6 547.5 L601.6 548.3 L604 536.7 L606.5 528.4 L609 535.7 L611.5 542.3 L613.5 541.6 L615.5 544.3 L619.4 530.4 L621.4 535.1 L623.4 540.3 L625.6 538.2 L627.9 530.4 L629.9 536.8 L631.9 543.9 L633.9 552.2 L636.8 557.2 L639.8 556.2 L641.8 555.6 L643.8 550.6 L645.8 552.2 L648.8 554.6 L651.7 558.2 L653.7 557.8 L655.7 552.8 L657.7 554.2 L659.7 553.9 L661.7 556.8 L663.7 556.2 L666.7 554.6 L669.6 548.3 L672.2 555.5 L674.9 563.9 L677.5 568.1 L679.5 563.9 L681.5 559.5 L683.5 558.3 L685.5 552.2 L688.1 552.8 L690.8 556.6 L693.4 556.2 L695.4 556.4 L697.4 559.2 L699.4 562.1 L702.3 556.2 L705.3 554.2 L707.3 556.5 L709.3 556.1 L711.3 558.3 L713.3 562.1 L716.2 556.4 L719.2 554.2 L721.2 548.7 L723.2 542.4 L725.2 538.3 L728.2 542 L731.1 546.3 L733.7 548.5 L736.4 545.5 L739 543.3 L741 545 L743 540.2 L745 540.7 L747 538.1 L749 540.3 L751.6 540.2 L754.3 536.7 L756.9 536.3 L758.9 528.8 L760.9 524.4 L763.8 515.2 L766.8 512.5 L768.8 509.3 L770.8 508.9 L772.8 509.6 L775.4 508.5 L778.1 511.9 L780.7 508.6 L783.2 501.2 L785.7 490.7 L788.2 498 L790.6 508.6 L792.6 502.7 L794.6 498.7 L796.6 493.5 L798.6 496.5 L800.6 490.7 L803.2 489 L805.9 491.3 L808.5 488.7 L811.5 491.3 L814.4 490.7 L816.4 500.6 L818.4 504.6 L820.4 497.2 L822.4 496.7 L825.3 501.4 L828.3 508.6 L830.3 510.7 L832.3 514.5 L834.3 509.6 L836.3 513.2 L838.3 508.6 L841.2 506.4 L844.2 506.6 L846.2 509.2 L848.2 508.1 L850.2 508.6 L852.1 528.4 L854.1 530.8 L856.1 538.3 L858.1 544.3 L861 547.6 L864 554.2 L866 552.7 L868 554.7 L870 558.2 L872 566.7 L874 574 L877.9 597.9 L879.9 597.3 L881.9 600.8 L883.9 603.8 L885.9 613.7 L887.9 629.6 L890.8 637.2 L893.8 645.5 L895.8 652.3 L897.8 657.2 L899.8 665.3 L902.8 669.1 L905.7 671.3 L907.7 678.3 L909.7 687.1 L911.7 695.8 L913.7 703 L916.2 705 L918.7 705 L921.1 706.7 L923.6 709 L926.2 711.1 L928.9 714.8 L931.5 716.9 L933.5 719.3 L935.5 721.9 L937.5 724.8 L940.1 729.4 L942.8 732.3 L945.4 736.7 L947.8 736.8 L950.2 737.3 L952.5 737.6 L954.9 737.8 L957.3 738.7 L959.3 737.1 L961.3 736.7 L965.2 744.7 L967.2 744.2 L969.2 743.7 L971.2 743.4 L973.2 742.7 L977.1 745.7 L979.1 745.5 L981.1 745.3 L983.1 745.1 L985.1 744.9 L987.1 744.7 L989.3 744 L991.5 743.6 L993.6 743 L995.8 742.6 L998 741.7" fill="none" stroke="#00ff08" stroke-width="2.4" stroke-linejoin="round"/>
<g fill="#111">
<rect x="349.8" y="740.2" width="2.6" height="7.0" fill-opacity="0.8"/>
<rect x="365.3" y="740.2" width="2.6" height="7.0" fill-opacity="0.8"/>
<rect x="384.1" y="740.2" width="2.6" height="7.0" fill-opacity="0.8"/>
<rect x="461.9" y="740.2" width="2.6" height="7.0" fill-opacity="0.8"/>
<rect x="480.4" y="740.2" width="2.6" height="7.0" fill-opacity="0.8"/>
<rect x="496.3" y="740.2" width="2.6" height="7.0" fill-opacity="0.8"/>
<rect x="522.3" y="740.2" width="2.6" height="7.0" fill-opacity="0.8"/>
<rect x="532.5" y="740.2" width="2.6" height="7.0" fill-opacity="0.8"/>
<rect x="543.3" y="740.2" width="2.6" height="7.0" fill-opacity="0.8"/>
<rect x="550.3" y="740.2" width="4.6" height="7.0" fill-opacity="0.8"/>
<rect x="335.5" y="740.2" width="3.8" height="12.3" fill-opacity="0.85"/>
<rect x="508.1" y="740.2" width="3.8" height="12.3" fill-opacity="0.85"/>
<rect x="615.6" y="740.2" width="2.6" height="7.0" fill-opacity="0.8"/>
<rect x="647.4" y="740.2" width="2.6" height="7.0" fill-opacity="0.8"/>
<rect x="669.9" y="740.2" width="2.6" height="7.0" fill-opacity="0.8"/>
<rect x="686.8" y="740.2" width="3.8" height="12.3" fill-opacity="0.85"/>
<rect x="701.7" y="740.2" width="2.6" height="7.0" fill-opacity="0.8"/>
<rect x="713.8" y="740.2" width="2.6" height="7.0" fill-opacity="0.8"/>
<rect x="724.2" y="740.2" width="2.6" height="7.0" fill-opacity="0.8"/>
<rect x="733.4" y="740.2" width="2.6" height="7.0" fill-opacity="0.8"/>
<rect x="795.3" y="740.2" width="2.6" height="7.0" fill-opacity="0.8"/>
<rect x="826.7" y="740.2" width="2.6" height="7.0" fill-opacity="0.8"/>
<rect x="849.0" y="740.2" width="2.6" height="7.0" fill-opacity="0.8"/>
<rect x="865.7" y="740.2" width="3.8" height="12.3" fill-opacity="0.85"/>
<rect x="880.4" y="740.2" width="2.6" height="7.0" fill-opacity="0.8"/>
<rect x="892.3" y="740.2" width="2.6" height="7.0" fill-opacity="0.8"/>
<rect x="902.6" y="740.2" width="2.6" height="7.0" fill-opacity="0.8"/>
<rect x="911.7" y="740.2" width="2.6" height="7.0" fill-opacity="0.8"/>
<rect x="973.3" y="740.2" width="2.6" height="7.0" fill-opacity="0.8"/>
<rect x="560.1" y="740.2" width="5" height="17.4" fill="#0a0a0a"/>
<rect x="740.5" y="740.2" width="5" height="17.4" fill="#0a0a0a"/>
<rect x="918.7" y="740.2" width="5" height="17.4" fill="#0a0a0a"/>
<rect x="400.9" y="740.2" width="42.8" height="6.6" fill="#000"/>
<rect x="400.9" y="740.2" width="4.7" height="17.4" fill="#000"/>
<rect x="411.2" y="740.2" width="4.6" height="12.3" fill="#000"/>
<rect x="418.9" y="740.2" width="9.8" height="17.4" fill="#000"/>
<rect x="433.4" y="740.2" width="2.6" height="12.3" fill="#000"/>
<rect x="439.4" y="740.2" width="4.3" height="17.4" fill="#000"/>
</g>
<g class="dv" fill="#2a2a2a">
<text class="dv" x="436.9" y="798.2" text-anchor="middle" font-size="27" textLength="15.5" lengthAdjust="spacingAndGlyphs">0</text>
<text class="dv" x="561.1" y="798.2" font-size="27" textLength="30.5" lengthAdjust="spacingAndGlyphs">10</text>
<text class="dv" x="592.4" y="782" font-size="25" textLength="13.5" lengthAdjust="spacingAndGlyphs">3</text>
<text class="dv" x="741.5" y="798.2" font-size="27" textLength="30.5" lengthAdjust="spacingAndGlyphs">10</text>
<text class="dv" x="772.8" y="782" font-size="25" textLength="13.5" lengthAdjust="spacingAndGlyphs">4</text>
<text class="dv" x="919.7" y="798.2" font-size="27" textLength="30.5" lengthAdjust="spacingAndGlyphs">10</text>
<text class="dv" x="951.0" y="782" font-size="25" textLength="13.5" lengthAdjust="spacingAndGlyphs">5</text>
</g>
<text x="252" y="344" font-size="31" textLength="61" lengthAdjust="spacingAndGlyphs">CTR</text>
<text x="180" y="484.6" font-size="31" textLength="141" lengthAdjust="spacingAndGlyphs">Aβ<tspan font-size="16.5" dy="8.5" fill="#3c3c3c">1-42</tspan><tspan dy="-8.5"> fibrils</tspan></text>
<text x="85" y="607.4" font-size="31" textLength="230" lengthAdjust="spacingAndGlyphs">Aβ<tspan font-size="16.5" dy="8.5" fill="#3c3c3c">1-42</tspan><tspan dy="-8.5"> fibrils - GSK</tspan></text>
<text x="91" y="729.3" font-size="31" textLength="220" lengthAdjust="spacingAndGlyphs">Aβ<tspan font-size="16.5" dy="8.5" fill="#3c3c3c">1-42</tspan><tspan dy="-8.5"> fibrils - IN-1</tspan></text>
<text class="b" x="542" y="854.8" font-size="35" textLength="274" lengthAdjust="spacingAndGlyphs">FAM-A<tspan font-weight="normal">β</tspan><tspan font-size="19" dy="9">1-42</tspan><tspan dy="-9"> fibrils</tspan></text>
</g>
<g id="panel-b">
<text class="b" x="1323" y="61" font-size="40">b</text>
<g stroke="#000" stroke-width="3.2" fill="none">
<line x1="1640.3" y1="98.6" x2="1640.3" y2="647.9"/>
<line x1="1634" y1="646.3" x2="1976" y2="646.3"/>
<line x1="1632.3" y1="591.8" x2="1640.3" y2="591.8" stroke-width="3"/>
<line x1="1632.3" y1="537.2" x2="1640.3" y2="537.2" stroke-width="3"/>
<line x1="1632.3" y1="482.6" x2="1640.3" y2="482.6" stroke-width="3"/>
<line x1="1632.3" y1="428.1" x2="1640.3" y2="428.1" stroke-width="3"/>
<line x1="1632.3" y1="373.5" x2="1640.3" y2="373.5" stroke-width="3"/>
<line x1="1632.3" y1="319.0" x2="1640.3" y2="319.0" stroke-width="3"/>
<line x1="1632.3" y1="264.4" x2="1640.3" y2="264.4" stroke-width="3"/>
<line x1="1632.3" y1="209.9" x2="1640.3" y2="209.9" stroke-width="3"/>
<line x1="1632.3" y1="155.3" x2="1640.3" y2="155.3" stroke-width="3"/>
<line x1="1632.3" y1="100.8" x2="1640.3" y2="100.8" stroke-width="3"/>
<line x1="1692" y1="646.3" x2="1692" y2="653.8" stroke-width="3"/>
<line x1="1768.8" y1="646.3" x2="1768.8" y2="653.8" stroke-width="3"/>
<line x1="1846.7" y1="646.3" x2="1846.7" y2="653.8" stroke-width="3"/>
<line x1="1924.4" y1="646.3" x2="1924.4" y2="653.8" stroke-width="3"/>
</g>
<g font-size="38.2" text-anchor="end">
<text x="1625.5" y="659.9">0</text>
<text x="1625.5" y="605.4">2,500</text>
<text x="1625.5" y="550.8">5,000</text>
<text x="1625.5" y="496.2">7,500</text>
<text x="1625.5" y="441.7">10,000</text>
<text x="1625.5" y="387.1">12,500</text>
<text x="1625.5" y="332.6">15,000</text>
<text x="1625.5" y="278.1">17,500</text>
<text x="1625.5" y="223.5">20,000</text>
<text x="1625.5" y="168.9">22,500</text>
<text x="1625.5" y="114.4">25,000</text>
</g>
<text font-size="44" text-anchor="middle" transform="translate(1474.5 368.5) rotate(-90)">MFI</text>
<rect x="1743.2" y="221.5" width="52.2" height="424.8" fill="#9a9a98"/>
<g stroke="#9a9a98" stroke-width="2.6"><line x1="1769.3" y1="203" x2="1769.3" y2="223"/><line x1="1755.5" y1="203" x2="1783.3" y2="203"/></g>
<rect x="1820.3" y="517.8" width="52.2" height="128.5" fill="#fd7f08"/>
<g stroke="#fd7f08" stroke-width="2.6"><line x1="1846.8" y1="510.3" x2="1846.8" y2="519"/><line x1="1832" y1="510.3" x2="1861.6" y2="510.3"/></g>
<rect x="1898.2" y="430.8" width="52.2" height="215.5" fill="#22ff08"/>
<g stroke="#22ff08" stroke-width="2.6"><line x1="1924.2" y1="408.8" x2="1924.2" y2="432"/><line x1="1910" y1="408.8" x2="1938.5" y2="408.8"/></g>
<rect x="1668" y="619.2" width="48.4" height="27.1" fill="#fff" stroke="#000" stroke-width="2.6"/>
<line x1="1677.5" y1="617.2" x2="1705" y2="617.2" stroke="#000" stroke-width="2.6"/>
<line x1="1634" y1="646.3" x2="1976" y2="646.3" stroke="#000" stroke-width="3.2"/>
<g stroke="#000" stroke-width="3"><line x1="1766" y1="99" x2="1922" y2="99"/><line x1="1766" y1="146.5" x2="1851" y2="146.5"/></g>
<text x="1846.7" y="105.2" font-size="52" text-anchor="middle">***</text>
<text x="1808.3" y="155.2" font-size="52" text-anchor="middle">***</text>
<text font-size="38" text-anchor="end" letter-spacing="0.8" transform="translate(1700.5 686.5) rotate(-45)">CTR</text>
<text font-size="38" text-anchor="end" transform="translate(1774.8 689.0) rotate(-45)">Aβ<tspan font-size="28" dy="7">1-42</tspan><tspan dy="-7"> fibrils</tspan></text>
<text font-size="38" text-anchor="end" transform="translate(1852.7 689.0) rotate(-45)">Aβ<tspan font-size="28" dy="7">1-42</tspan><tspan dy="-7"> fibrils- GSK</tspan></text>
<text font-size="38" text-anchor="end" transform="translate(1927.9 691.5) rotate(-45)">Aβ<tspan font-size="28" dy="7">1-42</tspan><tspan dy="-7"> fibrils- IN1</tspan></text>
</g>
<g id="panel-c">
<text class="b" x="62" y="1049" font-size="40">c</text>
<g stroke="#000" stroke-width="3.2" fill="none">
<line x1="329.0" y1="1109.4" x2="329.0" y2="1634.0"/>
<line x1="312.7" y1="1616.0" x2="732.0" y2="1616.0"/>
<line x1="312.7" y1="1515.0" x2="329.0" y2="1515.0"/>
<line x1="312.7" y1="1414.0" x2="329.0" y2="1414.0"/>
<line x1="312.7" y1="1313.0" x2="329.0" y2="1313.0"/>
<line x1="312.7" y1="1212.0" x2="329.0" y2="1212.0"/>
<line x1="312.7" y1="1111.0" x2="329.0" y2="1111.0"/>
<line x1="429.4" y1="1616.0" x2="429.4" y2="1634.0"/>
<line x1="529.7" y1="1616.0" x2="529.7" y2="1634.0"/>
<line x1="630.0" y1="1616.0" x2="630.0" y2="1634.0"/>
<line x1="730.4" y1="1616.0" x2="730.4" y2="1634.0"/>
</g>
<g font-size="34" text-anchor="end">
<text x="308.5" y="1628.0" textLength="17" lengthAdjust="spacingAndGlyphs">0</text>
<text x="308.5" y="1527.0" textLength="33.5" lengthAdjust="spacingAndGlyphs">20</text>
<text x="308.5" y="1426.0" textLength="33.5" lengthAdjust="spacingAndGlyphs">40</text>
<text x="308.5" y="1325.0" textLength="33.5" lengthAdjust="spacingAndGlyphs">60</text>
<text x="308.5" y="1224.0" textLength="33.5" lengthAdjust="spacingAndGlyphs">80</text>
<text x="308.5" y="1123.0" textLength="50" lengthAdjust="spacingAndGlyphs">100</text>
</g>
<g font-size="34" text-anchor="middle">
<text x="329.0" y="1666" textLength="17" lengthAdjust="spacingAndGlyphs">0</text>
<text x="429.4" y="1666" textLength="33.5" lengthAdjust="spacingAndGlyphs">50</text>
<text x="529.7" y="1666" textLength="50" lengthAdjust="spacingAndGlyphs">100</text>
<text x="630.0" y="1666" textLength="50" lengthAdjust="spacingAndGlyphs">150</text>
<text x="730.4" y="1666" textLength="50" lengthAdjust="spacingAndGlyphs">200</text>
</g>
<text font-size="36" x="342" y="1719.5" textLength="360" lengthAdjust="spacingAndGlyphs">Fuorescence intensity/μm</text>
<text font-size="26" x="702" y="1709.5" textLength="13" lengthAdjust="spacingAndGlyphs">2</text>
<text font-size="38" text-anchor="middle" transform="translate(229.5 1364) rotate(-90)" textLength="388.5" lengthAdjust="spacingAndGlyphs">Cumulative frequency (%)</text>
<path d="M349.1 1616 L369.1 1605.9 L389.2 1593.3 L409.3 1578.1 L429.4 1560.5 L439.4 1535.2 L449.4 1499.8 L469.5 1444.3 L489.6 1403.9 L509.6 1373.6 L529.7 1358.5 L539.7 1343.3 L549.8 1318 L559.8 1282.7 L569.8 1257.5 L589.9 1242.3 L610 1212 L630 1176.7 L650.1 1151.4 L670.2 1151.4" fill="none" stroke="#bcbcbc" stroke-width="2.5" stroke-dasharray="12 5" stroke-linejoin="round"/>
<path d="M349.1 1616 L359.1 1595.8 L369.1 1570.5 L389.2 1504.9 L399.2 1454.4 L409.3 1403.9 L419.3 1378.7 L429.4 1348.3 L439.4 1308 L449.4 1272.6 L459.5 1252.4 L469.5 1232.2 L489.6 1201.9 L509.6 1176.7 L529.7 1171.6 L549.8 1151.4 L569.8 1146.3 L670.2 1146.3" fill="none" stroke="#ff8408" stroke-width="3.4" stroke-linejoin="round"/>
<path d="M349.1 1616 L359.1 1611 L369.1 1600.8 L379.2 1575.6 L389.2 1545.3 L399.2 1510 L409.3 1469.5 L419.3 1424.1 L429.4 1388.8 L439.4 1358.5 L449.4 1333.2 L469.5 1292.8 L489.6 1257.5 L509.6 1227.2 L529.7 1201.9 L549.8 1196.8 L569.8 1191.8 L589.9 1181.7 L610 1166.5 L630 1156.5 L670.2 1156.5" fill="none" stroke="#ff0d1c" stroke-width="3.4" stroke-linejoin="round"/>
<line x1="628.5" y1="1374.5" x2="674" y2="1374.5" stroke="#bdbdbd" stroke-width="3.4" stroke-dasharray="13 5"/>
<line x1="628.5" y1="1443" x2="674" y2="1443" stroke="#ff8408" stroke-width="3.4"/>
<line x1="628.5" y1="1499.5" x2="674" y2="1499.5" stroke="#ff0d1c" stroke-width="3.4"/>
<text font-size="29" x="696" y="1385" textLength="139" lengthAdjust="spacingAndGlyphs">Aβ<tspan font-size="21" dy="9">1-42</tspan><tspan dy="-9"> fibrils</tspan></text>
<text font-size="29" x="696" y="1453.5" textLength="202" lengthAdjust="spacingAndGlyphs">Aβ<tspan font-size="21" dy="9">1-42</tspan><tspan dy="-9"> fibrils GSK</tspan></text>
<text font-size="29" x="696" y="1510" textLength="258" lengthAdjust="spacingAndGlyphs">Aβ<tspan font-size="21" dy="9">1-42</tspan><tspan dy="-9"> fibrils GSK+CQ</tspan></text>
</g>
<g id="panel-d">
<defs>
<filter id="fb1" filterUnits="userSpaceOnUse" x="1280" y="1080" width="840" height="690" color-interpolation-filters="sRGB"><feGaussianBlur stdDeviation="0.9"/></filter>
<filter id="fb2" filterUnits="userSpaceOnUse" x="1280" y="1080" width="840" height="690" color-interpolation-filters="sRGB"><feGaussianBlur stdDeviation="1.6"/></filter>
<filter id="fb3" filterUnits="userSpaceOnUse" x="1280" y="1080" width="840" height="690" color-interpolation-filters="sRGB"><feGaussianBlur stdDeviation="2.6"/></filter>
<filter id="fb4" filterUnits="userSpaceOnUse" x="1280" y="1080" width="840" height="690" color-interpolation-filters="sRGB"><feGaussianBlur stdDeviation="6"/></filter>
<filter id="fb8" filterUnits="userSpaceOnUse" x="1280" y="1080" width="840" height="690" color-interpolation-filters="sRGB"><feGaussianBlur stdDeviation="9"/></filter>
</defs>
<text class="b" x="1198" y="1033" font-size="40">d</text>
<text x="1072.5" y="1255.3" font-size="31" textLength="238.5" lengthAdjust="spacingAndGlyphs">Aβ<tspan font-size="17" dy="8.5" >1-42</tspan><tspan dy="-8.5"> fibrils-GSK</tspan></text>
<text x="1006" y="1579.4" font-size="31" textLength="305" lengthAdjust="spacingAndGlyphs">Aβ<tspan font-size="17" dy="8.5" >1-42</tspan><tspan dy="-8.5"> fibrils-GSK+CQ</tspan></text>
<rect x="1319.9" y="1105.8" width="380.2" height="317.3" fill="#000"/>
<rect x="1319.9" y="1107.0" width="3.0" height="316.1" fill="#9a9a9a"/>
<rect x="1696.6999999999998" y="1107.0" width="3.4" height="316.1" fill="#ababab"/>
<rect x="1319.9" y="1105.8" width="380.2" height="2.4" fill="#b0b0b0"/>
<rect x="1319.9" y="1419.8999999999999" width="380.2" height="3.2" fill="#9c9c9c"/>
<rect x="1322.9" y="1125.5" width="369.1" height="276.9" fill="#021003"/>
<clipPath id="cpd1"><rect x="1322.9" y="1125.5" width="369.1" height="276.9"/></clipPath>
<g clip-path="url(#cpd1)">
<g filter="url(#fb4)">
<ellipse cx="1504.8" cy="1298.3" rx="18" ry="22" fill="#0a4a0a" opacity="0.18"/>
</g>
<g filter="url(#fb2)" fill="none" stroke-linecap="round">
<path d="M1498.1 1289.6 C1498.4 1288.8 1499.0 1286.1 1500 1284.8 C1501.0 1283.5 1502.3 1282.5 1503.9 1281.9 C1505.5 1281.3 1508.6 1281.2 1509.6 1281" stroke="#139013" stroke-width="6.5"/>
<path d="M1504.8 1286.7 C1505.1 1288.3 1505.9 1293.7 1506.7 1296.4 C1507.5 1299.1 1508.6 1301.3 1509.6 1303.1 C1510.6 1304.9 1512.0 1306.3 1512.5 1307" stroke="#0c7c0c" stroke-width="6"/>
<path d="M1504.8 1308.9 C1505.9 1308.4 1510.0 1306.6 1511.6 1306 C1513.2 1305.4 1514.0 1305.2 1514.5 1305.1" stroke="#0a960a" stroke-width="10"/>
<circle cx="1520.7" cy="1265.1" r="3.2" fill="#0f6a10" stroke="none"/>
</g>
<g filter="url(#fb2)"><circle cx="1634" cy="1227" r="3" fill="#0a3a0a"/><circle cx="1641" cy="1208" r="2" fill="#083008"/></g>
</g>
<text x="1483.5" y="1135.8" font-size="31" fill="#12c818" style="fill:#12c818" textLength="70" lengthAdjust="spacingAndGlyphs">Aβ<tspan font-size="16" dy="9.5" font-weight="bold">1-42</tspan></text>
<rect x="1706.7" y="1105.8" width="381.3" height="317.1" fill="#000"/>
<rect x="1706.7" y="1107.0" width="3.3" height="315.9" fill="#55554e"/>
<rect x="2084.8" y="1107.0" width="3.2" height="315.9" fill="#2c2c2c"/>
<rect x="1706.7" y="1105.8" width="381.3" height="2.4" fill="#b9b9b9"/>
<rect x="1706.7" y="1419.7" width="381.3" height="3.2" fill="#a2a2a2"/>
<rect x="1710.0" y="1125.5" width="370.1" height="276.9" fill="#15170a"/>
<clipPath id="cpd2"><rect x="1710.0" y="1125.5" width="370.1" height="276.9"/></clipPath>
<g clip-path="url(#cpd2)">
<g filter="url(#fb4)" fill="none" stroke-linecap="round">
<path d="M2073 1126 C2068.1 1134.8 2050.7 1164.5 2043.4 1179 C2036.1 1193.5 2031.8 1200.4 2029.1 1212.9 C2026.4 1225.4 2025.5 1241.9 2027 1253.8 C2028.5 1265.7 2033.0 1274.3 2038.3 1284.5 C2043.6 1294.7 2051.5 1304.8 2058.8 1315.2 C2066.1 1325.6 2078.1 1341.7 2082 1347" stroke="#7a2208" stroke-width="34" opacity="0.7"/>
<path d="M2043.4 1179 C2041.0 1184.7 2031.8 1200.4 2029.1 1212.9 C2026.4 1225.4 2025.5 1241.9 2027 1253.8 C2028.5 1265.7 2033.0 1274.3 2038.3 1284.5 C2043.6 1294.7 2055.4 1310.1 2058.8 1315.2" stroke="#962808" stroke-width="16" opacity="0.35"/>
</g>
<g filter="url(#fb3)" fill="none" stroke-linecap="round">
<path d="M2050 1166 C2062 1150 2072 1138 2082 1124" stroke="#8a2408" stroke-width="7" opacity="0.6"/>
</g>
<g filter="url(#fb1)" fill="none" stroke-linecap="round" stroke-linejoin="round">
<path d="M1900 1204.1 C1898.0 1202.5 1892.4 1198.0 1888 1194.5 C1883.6 1191.0 1878.3 1186.4 1873.5 1182.9 C1868.7 1179.4 1863.8 1176.0 1859 1173.3 C1854.2 1170.6 1848.0 1168.8 1844.6 1166.5 C1841.2 1164.2 1840.2 1162.5 1838.8 1159.8 C1837.3 1157.1 1836.6 1152.5 1835.9 1150.1 C1835.2 1147.7 1835.1 1146.1 1834.9 1145.3" stroke="#c8200c" stroke-width="2.55" stroke-opacity="0.79"/>
<path d="M1836.9 1160.7 C1834.2 1160.7 1826.5 1160.9 1820.5 1160.7 C1814.5 1160.5 1806.5 1160.6 1801.2 1159.8 C1795.9 1159.0 1791.9 1157.4 1788.7 1155.9 C1785.5 1154.5 1783.0 1151.9 1781.9 1151.1" stroke="#70140a" stroke-width="2.04" stroke-opacity="0.79"/>
<path d="M1834.9 1145.3 C1833.8 1142.6 1829.8 1132.4 1828.2 1128.9 C1826.6 1125.4 1825.8 1124.9 1825.3 1124.1" stroke="#70140a" stroke-width="1.70" stroke-opacity="0.62"/>
<path d="M1890 1196.4 C1891.3 1197.7 1894.8 1201.7 1897.7 1204.1 C1900.6 1206.5 1904.6 1207.6 1907.3 1210.8 C1910.0 1214.0 1911.7 1219.1 1914.1 1223.4 C1916.5 1227.8 1919.4 1232.4 1921.8 1236.9 C1924.2 1241.4 1927.5 1248.2 1928.6 1250.4" stroke="#c8200c" stroke-width="2.55" stroke-opacity="0.79"/>
<path d="M1935.3 1236.9 C1934.8 1234.2 1933.4 1226.5 1932.4 1220.5 C1931.4 1214.5 1930.1 1206.8 1929.5 1201.2 C1928.9 1195.6 1928.8 1192.3 1928.6 1186.7 C1928.4 1181.1 1928.6 1171.5 1928.1 1167.5 C1927.6 1163.5 1927.5 1164.6 1925.7 1162.7 C1923.9 1160.8 1919.4 1158.3 1917 1155.9 C1914.6 1153.5 1912.8 1151.1 1911.2 1148.2 C1909.6 1145.3 1908.3 1141.3 1907.3 1138.6 C1906.3 1135.9 1905.9 1134.0 1905.4 1131.8 C1904.9 1129.5 1904.7 1126.2 1904.5 1125.1" stroke="#a01a0a" stroke-width="2.38" stroke-opacity="0.84"/>
<path d="M1936.3 1225.3 C1937.6 1222.6 1941.8 1213.7 1944 1208.9 C1946.2 1204.1 1947.5 1200.1 1949.8 1196.4 C1952.0 1192.7 1954.6 1189.6 1957.5 1186.7 C1960.4 1183.8 1963.9 1181.4 1967.1 1179 C1970.3 1176.6 1973.5 1173.9 1976.7 1172.3 C1979.9 1170.7 1983.2 1170.1 1986.4 1169.4 C1989.6 1168.8 1992.8 1169.2 1996 1168.4 C1999.2 1167.6 2001.7 1166.4 2005.7 1164.6 C2009.7 1162.8 2015.3 1160.4 2020.1 1157.8 C2024.9 1155.2 2031.2 1151.1 2034.6 1149.2 C2038.0 1147.3 2039.4 1146.8 2040.4 1146.3" stroke="#a01a0a" stroke-width="2.38" stroke-opacity="0.84"/>
<path d="M1996 1169.4 C1997.6 1171.0 2002.5 1176.4 2005.7 1179 C2008.9 1181.6 2013.7 1183.8 2015.3 1184.8" stroke="#70140a" stroke-width="1.87" stroke-opacity="0.79"/>
<path d="M1940.1 1234.9 C1943.0 1234.0 1952.2 1230.5 1957.5 1229.2 C1962.8 1227.9 1967.1 1227.7 1971.9 1227.2 C1976.7 1226.7 1982.1 1226.3 1986.4 1226.3 C1990.8 1226.3 1996.1 1227.0 1998 1227.2" stroke="#a01a0a" stroke-width="2.21" stroke-opacity="0.79"/>
<path d="M1998 1227.2 L2000.8 1217.6" stroke="#70140a" stroke-width="1.70" stroke-opacity="0.62"/>
<path d="M1873.5 1196.4 C1873.2 1198.8 1871.8 1206.0 1871.6 1210.8 C1871.4 1215.6 1872.2 1221.3 1872.5 1225.3 C1872.8 1229.3 1872.5 1232.0 1873.5 1234.9 C1874.5 1237.8 1875.9 1240.1 1878.3 1242.7 C1880.7 1245.3 1884.8 1247.7 1888 1250.4 C1891.2 1253.1 1896.0 1257.6 1897.6 1259" stroke="#a01a0a" stroke-width="2.21" stroke-opacity="0.75"/>
<path d="M1873.5 1234 C1871.1 1234.2 1862.8 1235.9 1859 1234.9 C1855.2 1233.9 1852.0 1230.1 1850.4 1228.2 C1848.8 1226.3 1849.6 1224.2 1849.4 1223.4" stroke="#70140a" stroke-width="1.87" stroke-opacity="0.70"/>
<path d="M1762.7 1223.9 C1765.9 1224.1 1776.3 1224.6 1781.9 1225.3 C1787.5 1226.0 1791.6 1226.6 1796.4 1228.2 C1801.2 1229.8 1806.0 1232.2 1810.8 1234.9 C1815.6 1237.6 1820.5 1241.7 1825.3 1244.6 C1830.1 1247.5 1835.0 1250.7 1839.8 1252.3 C1844.6 1253.9 1850.2 1253.2 1854.2 1254.2 C1858.2 1255.2 1860.7 1256.2 1863.9 1258.1 C1867.1 1260.0 1871.9 1264.5 1873.5 1265.8" stroke="#a01a0a" stroke-width="2.55" stroke-opacity="0.84"/>
<path d="M1873.5 1256.7 C1875.1 1257.7 1879.9 1260.7 1883.1 1262.5 C1886.3 1264.3 1890.0 1266.2 1892.8 1267.3 C1895.6 1268.4 1898.8 1269.0 1900 1269.3" stroke="#c8200c" stroke-width="2.55" stroke-opacity="0.79"/>
<path d="M1883.1 1293.4 C1879.9 1293.2 1870.3 1292.4 1863.9 1292.4 C1857.5 1292.4 1850.2 1293.4 1844.6 1293.4 C1839.0 1293.4 1834.4 1293.1 1830.1 1292.4 C1825.8 1291.8 1821.8 1291.1 1818.6 1289.5 C1815.4 1287.9 1812.9 1285.4 1810.8 1282.8 C1808.7 1280.2 1807.0 1277.1 1806 1274.1 C1805.0 1271.0 1805.9 1267.5 1805.1 1264.5 C1804.3 1261.5 1803.0 1259.2 1801.2 1255.8 C1799.4 1252.4 1796.3 1247.1 1794.5 1244.2 C1792.7 1241.3 1791.2 1239.4 1790.6 1238.4" stroke="#a01a0a" stroke-width="2.38" stroke-opacity="0.79"/>
<path d="M1806 1278.9 C1802.8 1279.1 1793.1 1279.6 1786.7 1279.9 C1780.3 1280.2 1773.1 1280.5 1767.5 1280.8 C1761.9 1281.1 1755.4 1281.6 1753 1281.8" stroke="#70140a" stroke-width="2.04" stroke-opacity="0.62"/>
<path d="M1883.1 1304.9 C1879.9 1305.6 1870.3 1307.3 1863.9 1308.8 C1857.5 1310.2 1851.0 1312.1 1844.6 1313.6 C1838.2 1315.0 1830.9 1316.5 1825.3 1317.5 C1819.7 1318.5 1815.6 1318.4 1810.8 1319.4 C1806.0 1320.4 1800.4 1322.0 1796.4 1323.3 C1792.4 1324.6 1789.9 1325.2 1786.7 1327.1 C1783.5 1329.0 1780.0 1332.2 1777.1 1334.8 C1774.2 1337.4 1770.7 1341.2 1769.4 1342.5" stroke="#c8200c" stroke-width="2.55" stroke-opacity="0.84"/>
<path d="M1891.8 1304 C1889.5 1306.9 1882.1 1316.2 1878.3 1321.3 C1874.5 1326.4 1871.9 1330.6 1868.7 1334.8 C1865.5 1339.0 1861.7 1342.9 1859 1346.4 C1856.3 1349.9 1854.4 1352.8 1852.3 1356 C1850.2 1359.2 1848.6 1361.7 1846.5 1365.7 C1844.4 1369.7 1842.0 1375.3 1839.8 1380.1 C1837.5 1384.9 1835.2 1389.9 1833 1394.6 C1830.8 1399.3 1827.4 1405.8 1826.3 1408.1" stroke="#f02810" stroke-width="3.91" stroke-opacity="0.88"/>
<path d="M1848.4 1354.1 C1846.2 1354.4 1839.6 1355.0 1834.9 1356 C1830.2 1357.0 1825.3 1358.9 1820.5 1359.9 C1815.7 1360.9 1810.0 1361.2 1806 1361.8 C1802.0 1362.4 1799.3 1362.4 1796.4 1363.7 C1793.5 1365.0 1791.0 1367.1 1788.7 1369.5 C1786.5 1371.9 1785.2 1375.3 1782.9 1378.2 C1780.7 1381.1 1778.1 1384.2 1775.2 1386.9 C1772.3 1389.6 1769.4 1391.7 1765.5 1394.6 C1761.6 1397.5 1754.2 1402.6 1752 1404.2" stroke="#c8200c" stroke-width="2.72" stroke-opacity="0.84"/>
<path d="M1861.9 1356 C1862.6 1359.2 1863.9 1368.9 1865.8 1375.3 C1867.7 1381.7 1872.2 1391.4 1873.5 1394.6" stroke="#70140a" stroke-width="1.70" stroke-opacity="0.53"/>
<path d="M1914.1 1312.7 C1914.6 1315.1 1916.7 1322.3 1917 1327.1 C1917.3 1331.9 1917.0 1336.8 1916 1341.6 C1915.0 1346.4 1913.0 1351.2 1911.2 1356 C1909.4 1360.8 1907.0 1365.7 1905.4 1370.5 C1903.8 1375.3 1902.4 1380.6 1901.6 1384.9 C1900.8 1389.2 1900.8 1394.6 1900.6 1396.5" stroke="#a01a0a" stroke-width="2.38" stroke-opacity="0.79"/>
<path d="M1900.6 1380.1 L1901.1 1396.5" stroke="#c8200c" stroke-width="2.89" stroke-opacity="0.79"/>
<path d="M1856.3 1383 C1857.1 1384.6 1857.9 1391.2 1861.1 1392.7 C1864.3 1394.2 1870.7 1392.0 1875.5 1391.7 C1880.3 1391.4 1886.0 1391.0 1890 1390.7 C1894.0 1390.4 1898.0 1390.0 1899.6 1389.8" stroke="#70140a" stroke-width="1.70" stroke-opacity="0.70"/>
<path d="M1909.3 1302 C1912.5 1303.0 1923.5 1305.4 1928.6 1307.8 C1933.7 1310.2 1936.1 1313.8 1940.1 1316.5 C1944.1 1319.2 1948.2 1321.8 1952.7 1324.2 C1957.2 1326.6 1962.3 1329.1 1967.1 1331 C1971.9 1332.9 1976.8 1334.5 1981.6 1335.8 C1986.4 1337.1 1991.2 1337.7 1996 1338.7 C2000.8 1339.7 2006.5 1340.3 2010.5 1341.6 C2014.5 1342.9 2017.2 1345.0 2020.1 1346.4 C2023.0 1347.8 2026.5 1349.6 2027.8 1350.2" stroke="#c8200c" stroke-width="2.55" stroke-opacity="0.79"/>
<path d="M1940.1 1317.5 C1940.8 1319.9 1942.7 1327.1 1944 1331.9 C1945.3 1336.7 1946.3 1342.1 1947.8 1346.4 C1949.2 1350.8 1950.5 1354.0 1952.7 1358 C1955.0 1362.0 1959.9 1368.4 1961.3 1370.5" stroke="#70140a" stroke-width="1.70" stroke-opacity="0.62"/>
<path d="M1994.1 1321.3 C1996.0 1320.3 2001.7 1317.6 2005.7 1315.5 C2009.7 1313.4 2016.1 1309.9 2018.2 1308.8" stroke="#70140a" stroke-width="1.70" stroke-opacity="0.44"/>
</g>
<g filter="url(#fb3)" fill="none" stroke-linecap="round">
<ellipse cx="1898" cy="1284" rx="12.5" ry="23" fill="#ff2a10" stroke="none" transform="rotate(18 1898 1284)"/>
<path d="M1926 1244 C1924.5 1246.0 1919.8 1252.0 1917 1256 C1914.2 1260.0 1910.3 1266.0 1909 1268" stroke="#e8240e" stroke-width="8"/>
</g>
<g filter="url(#fb2)">
<ellipse cx="1888.5" cy="1285" rx="3.5" ry="6.5" fill="#f0a010" opacity="0.8"/>
<ellipse cx="1894.5" cy="1300" rx="4.5" ry="4" fill="#ff8a10" opacity="0.8"/>
<ellipse cx="1907" cy="1264" rx="2.6" ry="2.6" fill="#ff8a10" opacity="0.75"/>
<ellipse cx="1897.5" cy="1310.5" rx="5" ry="4" fill="#3aa008"/>
</g>
<g filter="url(#fb3)">
<ellipse cx="1930.5" cy="1274.5" rx="14.5" ry="20.5" fill="#2aa892" transform="rotate(-6 1930.5 1274.5)"/>
<ellipse cx="2037" cy="1223" rx="13.5" ry="18.5" fill="#28a890" transform="rotate(12 2037 1223)"/>
<ellipse cx="2030" cy="1253" rx="14" ry="20" fill="#28a890" transform="rotate(10 2030 1253)"/>
<ellipse cx="2033" cy="1238.5" rx="12" ry="26" fill="#28a890" transform="rotate(11 2033 1238.5)"/>
</g>
<g filter="url(#fb2)" fill="#46e0c8">
<circle cx="1929" cy="1262" r="3" opacity="0.8"/>
<circle cx="1931.5" cy="1276" r="2.6" opacity="0.8"/>
<circle cx="1942.5" cy="1281" r="2.6" opacity="0.8"/>
<circle cx="1927" cy="1288" r="3.2" opacity="0.8"/>
<circle cx="2041" cy="1213" r="4" opacity="0.8"/>
<circle cx="2031" cy="1225" r="3" opacity="0.8"/>
<circle cx="2029" cy="1247" r="5" opacity="0.8"/>
<circle cx="2027" cy="1262" r="4" opacity="0.8"/>
<circle cx="2037" cy="1236" r="3" opacity="0.8"/>
</g>
<circle cx="2078" cy="1190.5" r="2.2" fill="#c01c0c" filter="url(#fb1)"/>
</g>
<text x="1777" y="1135.8" font-size="31" fill="#14c41a" style="fill:#14c41a" textLength="70" lengthAdjust="spacingAndGlyphs">Aβ<tspan font-size="16" dy="9.5" font-weight="bold">1-42</tspan></text>
<text x="1856" y="1135.8" font-size="31" style="fill:#e60a0a" textLength="75.5" lengthAdjust="spacingAndGlyphs">GFAP</text>
<text x="1941.3" y="1135.8" font-size="31" style="fill:#10cfd4" textLength="66" lengthAdjust="spacingAndGlyphs">DAPI</text>
<text class="b" x="2016.2" y="1399.6" font-size="24" style="fill:#babab2" textLength="60" lengthAdjust="spacingAndGlyphs">10 μm</text>
<rect x="2021" y="1405.3" width="56.6" height="4.8" fill="#dcdcdc"/>
<rect x="1319.9" y="1427.9" width="380.2" height="317.7" fill="#000"/>
<rect x="1319.9" y="1429.1000000000001" width="3.0" height="316.5" fill="#9a9a9a"/>
<rect x="1696.6999999999998" y="1429.1000000000001" width="3.4" height="316.5" fill="#ababab"/>
<rect x="1319.9" y="1427.9" width="380.2" height="2.4" fill="#8c8c8c"/>
<rect x="1319.9" y="1742.3999999999999" width="380.2" height="3.2" fill="#9c9c9c"/>
<rect x="1322.9" y="1446.5" width="369.1" height="278.0" fill="#021003"/>
<clipPath id="cpd3"><rect x="1322.9" y="1446.5" width="369.1" height="278.0"/></clipPath>
<g clip-path="url(#cpd3)">
<g filter="url(#fb4)" opacity="0.6">
<circle cx="1594.8" cy="1622.9" r="16" fill="#0a4a0a"/>
<circle cx="1502.7" cy="1631.1" r="9" fill="#0a4a0a"/>
<circle cx="1529.3" cy="1557.0" r="9" fill="#0a4a0a"/>
</g>
<g filter="url(#fb2)">
<ellipse cx="1529.7" cy="1557.0" rx="6" ry="5.5" fill="#10a814"/>
<ellipse cx="1502.3" cy="1632.2" rx="3.6" ry="12.5" fill="#0fc012"/>
<ellipse cx="1502.7" cy="1634.2" rx="2.6" ry="5" fill="#14e418"/>
<ellipse cx="1588.7" cy="1625.0" rx="8" ry="7" fill="#10b814"/>
<ellipse cx="1600.0" cy="1631.1" rx="8" ry="7" fill="#0fae12"/>
<ellipse cx="1591.8" cy="1614.8" rx="5" ry="6" fill="#0c8c0e"/>
<ellipse cx="1603.0" cy="1622.9" rx="5" ry="6" fill="#0a700c"/>
<ellipse cx="1601.0" cy="1602.5" rx="5" ry="6" fill="#073c08"/>
<ellipse cx="1585.6" cy="1530.8" rx="7" ry="6" fill="#0a5c0c"/>
<ellipse cx="1580.5" cy="1539.0" rx="3" ry="4" fill="#084a0a"/>
<ellipse cx="1619.4" cy="1548.2" rx="9" ry="5" fill="#084c0a"/>
<ellipse cx="1570.3" cy="1675.2" rx="3.5" ry="3.5" fill="#0e9410"/>
<ellipse cx="1580.5" cy="1672.1" rx="4" ry="6" fill="#0a6c0c"/>
<ellipse cx="1566.2" cy="1657.7" rx="3" ry="4" fill="#063408"/>
</g>
</g>
<rect x="1706.7" y="1428.2" width="381.3" height="317.3" fill="#000"/>
<rect x="1706.7" y="1429.4" width="3.3" height="316.1" fill="#55554e"/>
<rect x="2084.8" y="1429.4" width="3.2" height="316.1" fill="#2c2c2c"/>
<rect x="1706.7" y="1428.2" width="381.3" height="2.4" fill="#9a9a9a"/>
<rect x="1706.7" y="1742.3" width="381.3" height="3.2" fill="#a2a2a2"/>
<rect x="1710.0" y="1446.5" width="370.1" height="278.0" fill="#11130a"/>
<clipPath id="cpd4"><rect x="1710.0" y="1446.5" width="370.1" height="278.0"/></clipPath>
<g clip-path="url(#cpd4)">
<g filter="url(#fb8)">
<path d="M2000.8 1628.2 C2006.4 1629.2 2029.8 1627.6 2034.6 1634 C2039.4 1640.4 2036.2 1658.0 2029.8 1666.7 C2023.4 1675.4 2006.5 1679.6 1996 1686 C1985.5 1692.4 1971.9 1702.1 1967.1 1705.3" fill="none" stroke="#501008" stroke-width="26" opacity="0.55" stroke-linecap="round"/>
</g>
<g filter="url(#fb3)">
<path d="M2033.1 1466.7 C2031.7 1469.4 2027.5 1477.6 2024.9 1482.7 C2022.3 1487.8 2019.7 1492.3 2017.7 1497.1 C2015.7 1501.9 2014.5 1506.8 2012.9 1511.6 C2011.3 1516.4 2009.5 1521.2 2008.1 1526 C2006.6 1530.8 2005.5 1535.7 2004.2 1540.5 C2002.9 1545.3 2001.9 1550.1 2000.4 1554.9 C1999.0 1559.7 1997.0 1565.2 1995.5 1569.4 C1994.0 1573.6 1992.7 1575.8 1991.2 1580 C1989.7 1584.2 1988.8 1590.5 1986.4 1594.5 C1984.0 1598.5 1980.2 1601.7 1976.7 1604.1 C1973.2 1606.5 1968.6 1606.2 1965.2 1608.9 C1961.8 1611.6 1958.8 1615.0 1956.5 1620.5 C1954.2 1626.0 1953.8 1636.2 1951.7 1641.7 C1949.6 1647.2 1947.5 1649.5 1944 1653.3 C1940.5 1657.1 1934.7 1662.4 1930.5 1664.8 C1926.3 1667.2 1922.4 1666.4 1918.9 1667.7 C1915.4 1669.0 1912.3 1669.5 1909.3 1672.5 C1906.2 1675.5 1903.2 1680.5 1900.6 1686 C1898.0 1691.5 1893.2 1700.5 1893.9 1705.3 C1894.6 1710.1 1898.7 1712.8 1904.5 1714.9 C1910.3 1717.0 1921.4 1718.4 1928.6 1717.8 C1935.8 1717.2 1941.4 1714.6 1947.8 1711.1 C1954.2 1707.6 1961.9 1701.6 1967.1 1696.6 C1972.2 1691.6 1975.3 1687.5 1978.7 1681.2 C1982.1 1674.9 1985.0 1666.2 1987.3 1659 C1989.5 1651.8 1990.6 1643.7 1992.2 1637.8 C1993.8 1631.9 1994.6 1629.8 1997 1623.4 C1999.4 1617.0 2003.8 1606.5 2006.6 1599.3 C2009.4 1592.1 2011.7 1587.4 2013.9 1580 C2016.1 1572.6 2017.7 1563.9 2019.6 1554.9 C2021.5 1545.9 2023.2 1535.6 2025.4 1526 C2027.7 1516.4 2031.2 1504.8 2033.1 1497.1 C2035.0 1489.4 2036.3 1484.1 2037 1479.8 C2037.7 1475.5 2037.4 1472.5 2037.5 1471.1 Z" fill="#a4190b"/>
</g>
<g filter="url(#fb2)" fill="none" stroke-linecap="round">
<path d="M2029.8 1479.8 C2028.7 1484.3 2025.4 1498.2 2023 1506.7 C2020.6 1515.2 2017.7 1522.8 2015.3 1530.8 C2012.9 1538.8 2010.7 1547.7 2008.6 1554.9 C2006.5 1562.1 2004.6 1566.8 2002.8 1574.2 C2001.0 1581.6 2000.1 1591.1 1998 1599.3 C1995.9 1607.5 1992.5 1615.4 1990.2 1623.4 C1988.0 1631.4 1986.8 1640.3 1984.5 1647.5 C1982.2 1654.7 1979.9 1660.3 1976.7 1666.7 C1973.5 1673.1 1970.0 1680.4 1965.2 1686 C1960.4 1691.6 1953.9 1696.5 1947.8 1700.5 C1941.7 1704.5 1931.8 1708.5 1928.6 1710.1" stroke="#e41e0c" stroke-width="5" opacity="0.7"/>
<path d="M1963.3 1628.2 C1962.3 1631.4 1960.1 1641.1 1957.5 1647.5 C1954.9 1653.9 1951.3 1661.1 1947.8 1666.7 C1944.3 1672.3 1940.3 1676.4 1936.3 1681.2 C1932.3 1686.0 1928.2 1691.7 1923.7 1695.7 C1919.2 1699.7 1911.7 1703.7 1909.3 1705.3" stroke="#d81c0c" stroke-width="4" opacity="0.6"/>
<circle cx="1964.7" cy="1658.0" r="2.9" fill="#e0240e" opacity="0.7"/>
<circle cx="1906.5" cy="1727.8" r="2.5" fill="#4a0c06" opacity="0.7"/>
<circle cx="1913.8" cy="1699.0" r="2.4" fill="#e0240e" opacity="0.7"/>
<circle cx="1932.7" cy="1690.9" r="1.9" fill="#f02a12" opacity="0.7"/>
<circle cx="1926.9" cy="1691.3" r="2.5" fill="#4a0c06" opacity="0.7"/>
<circle cx="1929.5" cy="1689.6" r="2.7" fill="#4a0c06" opacity="0.7"/>
<circle cx="1973.3" cy="1628.6" r="2.4" fill="#4a0c06" opacity="0.7"/>
<circle cx="1933.6" cy="1691.1" r="3.0" fill="#f02a12" opacity="0.7"/>
<circle cx="1926.5" cy="1677.8" r="1.8" fill="#5a0e06" opacity="0.7"/>
<circle cx="1942.1" cy="1687.5" r="2.4" fill="#6a1008" opacity="0.7"/>
<circle cx="1906.6" cy="1704.8" r="2.6" fill="#4a0c06" opacity="0.7"/>
<circle cx="1951.6" cy="1652.7" r="3.0" fill="#5a0e06" opacity="0.7"/>
<circle cx="1981.7" cy="1599.5" r="2.4" fill="#f02a12" opacity="0.7"/>
<circle cx="1938.3" cy="1665.1" r="1.7" fill="#4a0c06" opacity="0.7"/>
<circle cx="1970.7" cy="1636.3" r="1.9" fill="#f02a12" opacity="0.7"/>
<circle cx="1930.2" cy="1684.1" r="2.7" fill="#5a0e06" opacity="0.7"/>
<circle cx="1963.0" cy="1648.7" r="2.0" fill="#f02a12" opacity="0.7"/>
<circle cx="1973.9" cy="1598.0" r="2.5" fill="#4a0c06" opacity="0.7"/>
<circle cx="1945.8" cy="1685.3" r="2.0" fill="#6a1008" opacity="0.7"/>
<circle cx="1939.4" cy="1691.7" r="2.6" fill="#6a1008" opacity="0.7"/>
<circle cx="1980.2" cy="1581.0" r="3.0" fill="#e0240e" opacity="0.7"/>
<circle cx="1970.4" cy="1614.0" r="2.1" fill="#6a1008" opacity="0.7"/>
<circle cx="1941.5" cy="1655.9" r="2.9" fill="#5a0e06" opacity="0.7"/>
<circle cx="1968.5" cy="1614.6" r="3.0" fill="#e0240e" opacity="0.7"/>
<circle cx="1989.4" cy="1611.7" r="1.7" fill="#f02a12" opacity="0.7"/>
<circle cx="1924.4" cy="1677.5" r="1.8" fill="#e0240e" opacity="0.7"/>
<circle cx="1990.8" cy="1615.2" r="2.3" fill="#6a1008" opacity="0.7"/>
<circle cx="1939.9" cy="1664.1" r="1.8" fill="#f02a12" opacity="0.7"/>
<circle cx="1975.8" cy="1610.8" r="2.9" fill="#6a1008" opacity="0.7"/>
<circle cx="1920.1" cy="1701.4" r="2.4" fill="#e0240e" opacity="0.7"/>
<circle cx="1943.7" cy="1690.2" r="2.6" fill="#5a0e06" opacity="0.7"/>
<circle cx="1965.7" cy="1636.4" r="2.0" fill="#f02a12" opacity="0.7"/>
<circle cx="1941.0" cy="1699.1" r="2.9" fill="#6a1008" opacity="0.7"/>
<circle cx="1962.5" cy="1629.4" r="2.4" fill="#6a1008" opacity="0.7"/>
<circle cx="1926.4" cy="1678.7" r="2.3" fill="#6a1008" opacity="0.7"/>
<circle cx="1938.6" cy="1690.5" r="2.8" fill="#6a1008" opacity="0.7"/>
<circle cx="1974.2" cy="1618.3" r="2.2" fill="#6a1008" opacity="0.7"/>
<circle cx="1986.8" cy="1602.4" r="1.8" fill="#6a1008" opacity="0.7"/>
<circle cx="1984.0" cy="1610.4" r="2.6" fill="#f02a12" opacity="0.7"/>
<circle cx="1927.5" cy="1704.3" r="2.5" fill="#f02a12" opacity="0.7"/>
<circle cx="1932.2" cy="1699.8" r="2.0" fill="#5a0e06" opacity="0.7"/>
<circle cx="1924.0" cy="1703.4" r="1.9" fill="#4a0c06" opacity="0.7"/>
<circle cx="1945.8" cy="1646.6" r="1.9" fill="#5a0e06" opacity="0.7"/>
<circle cx="1969.9" cy="1626.0" r="2.3" fill="#e0240e" opacity="0.7"/>
<circle cx="1907.1" cy="1709.3" r="2.5" fill="#e0240e" opacity="0.7"/>
<circle cx="1928.5" cy="1694.5" r="2.1" fill="#6a1008" opacity="0.7"/>
<path d="M1936.3 1676.4 C1938.2 1676.1 1944.3 1674.7 1947.8 1674.5 C1951.3 1674.3 1955.9 1675.2 1957.5 1675.4" stroke="#ff2a10" stroke-width="3" opacity="0.9"/>
<circle cx="1946.9" cy="1664.8" r="3.2" fill="#5a0e06" opacity="0.8"/>
<circle cx="1944.0" cy="1682.2" r="3" fill="#5a0e06" opacity="0.8"/>
<circle cx="1949.8" cy="1698.6" r="3" fill="#5a0e06" opacity="0.8"/>
<circle cx="1912.2" cy="1698.6" r="2.6" fill="#5a0e06" opacity="0.8"/>
<circle cx="1957.5" cy="1690.8" r="2.6" fill="#5a0e06" opacity="0.8"/>
<circle cx="2013.4" cy="1644.6" r="2.4" fill="#5a0e06" opacity="0.8"/>
<circle cx="1971.9" cy="1644.6" r="2.2" fill="#5a0e06" opacity="0.8"/>
<circle cx="1926.6" cy="1705.3" r="2.4" fill="#5a0e06" opacity="0.8"/>
<circle cx="1904.5" cy="1710.1" r="2.4" fill="#5a0e06" opacity="0.8"/>
<circle cx="1999.9" cy="1589.6" r="2.2" fill="#5a0e06" opacity="0.8"/>
</g>
<g filter="url(#fb1)" fill="none" stroke-linecap="round">
<path d="M1728.9 1444.1 C1731.3 1447.8 1739.2 1459.7 1743.4 1466.3 C1747.6 1472.9 1750.0 1477.2 1754 1483.6 C1758.0 1490.0 1762.8 1497.4 1767.5 1504.8 C1772.2 1512.2 1777.1 1520.5 1781.9 1528 C1786.7 1535.5 1791.6 1542.4 1796.4 1550.1 C1801.2 1557.8 1807.6 1569.2 1810.8 1574.2 C1814.0 1579.2 1813.3 1577.3 1815.7 1580 C1818.1 1582.7 1821.8 1587.4 1825.3 1590.6 C1828.8 1593.8 1832.9 1596.4 1836.9 1599.3 C1840.9 1602.2 1844.9 1605.6 1849.4 1608 C1853.9 1610.4 1859.1 1612.3 1863.9 1613.7 C1868.7 1615.1 1873.8 1615.9 1878.3 1616.6 C1882.8 1617.2 1888.7 1617.4 1890.8 1617.6" stroke="#a0180a" stroke-width="3.3" opacity="0.95"/>
<path d="M1898.6 1444.1 C1898.6 1449.7 1899.6 1468.2 1898.6 1477.8 C1897.6 1487.4 1894.9 1493.9 1892.8 1501.9 C1890.7 1509.9 1889.2 1519.1 1886 1526 C1882.8 1532.9 1876.2 1537.8 1873.5 1543.4 C1870.8 1549.0 1869.9 1554.7 1869.6 1559.8 C1869.3 1564.9 1870.5 1569.2 1871.6 1574.2 C1872.7 1579.2 1875.6 1587.4 1876.4 1590" stroke="#7a1408" stroke-width="2.4" opacity="0.85"/>
<path d="M1935.3 1444.1 C1935.5 1449.7 1935.5 1468.2 1936.3 1477.8 C1937.1 1487.4 1938.2 1495.5 1940.1 1501.9 C1942.0 1508.3 1944.9 1512.1 1947.8 1516.4 C1950.7 1520.8 1954.5 1525.4 1957.5 1528 C1960.5 1530.6 1964.7 1531.2 1966.1 1531.8" stroke="#5a1006" stroke-width="2.2" opacity="0.8"/>
<path d="M2024.9 1443.1 C2023.3 1445.7 2018.5 1453.3 2015.3 1458.6 C2012.1 1463.9 2008.9 1469.3 2005.7 1474.9 C2002.5 1480.5 1999.2 1486.5 1996 1492.3 C1992.8 1498.1 1989.6 1504.3 1986.4 1509.6 C1983.2 1514.9 1979.6 1519.4 1976.7 1524.1 C1973.8 1528.8 1971.2 1533.3 1969 1537.6 C1966.8 1541.9 1965.5 1545.6 1963.3 1550.1 C1961.0 1554.6 1958.1 1559.8 1955.5 1564.6 C1952.9 1569.4 1950.2 1574.2 1947.8 1579 C1945.4 1583.8 1942.2 1591.1 1941.1 1593.5" stroke="#b01a0a" stroke-width="3.8"/>
<path d="M1963.3 1570.4 C1963.9 1572.7 1966.1 1580.7 1967.1 1583.9 C1968.0 1587.1 1969.0 1586.2 1969 1589.6 C1969.0 1593.0 1967.4 1601.7 1967.1 1604.1" stroke="#5a1006" stroke-width="2" opacity="0.7"/>
</g>
<g filter="url(#fb3)">
<path d="M1884.2 1616.6 C1886.1 1617.2 1891.6 1620.2 1895.8 1620.5 C1900.0 1620.8 1904.6 1619.9 1909.3 1618.6 C1914.0 1617.3 1918.6 1618.3 1923.7 1612.8 C1928.8 1607.3 1935.4 1590.6 1940.1 1585.8 C1944.8 1581.0 1950.4 1581.7 1951.7 1583.9 C1953.0 1586.2 1951.3 1593.5 1947.8 1599.3 C1944.3 1605.1 1936.0 1612.8 1930.5 1618.6 C1925.0 1624.4 1918.6 1627.6 1915.1 1634 C1911.6 1640.4 1912.5 1653.9 1909.3 1657.1 C1906.1 1660.3 1899.7 1656.2 1895.8 1653.3 C1891.9 1650.4 1887.7 1642.0 1886.1 1639.8 Z" fill="#8c160a" opacity="0.9"/>
</g>
<g filter="url(#fb3)">
<ellipse cx="1910" cy="1596.5" rx="22" ry="17" fill="#1e9a90" transform="rotate(-8 1910 1596.5)"/>
<ellipse cx="1932.8" cy="1638" rx="15.5" ry="27" fill="#1e9690" transform="rotate(28 1932.8 1638)"/>
</g>
<g filter="url(#fb2)" fill="#5cf0e4">
<circle cx="1911" cy="1586" r="2.2" opacity="0.85"/>
<circle cx="1899.5" cy="1592" r="2.4" opacity="0.85"/>
<circle cx="1911" cy="1600.5" r="3.2" opacity="0.85"/>
<circle cx="1926.5" cy="1598" r="3.4" opacity="0.85"/>
<circle cx="1895.5" cy="1601.5" r="2.4" opacity="0.85"/>
<circle cx="1905" cy="1611.5" r="2.6" opacity="0.85"/>
<circle cx="1934" cy="1619" r="2.8" opacity="0.85"/>
<circle cx="1947" cy="1634" r="2.4" opacity="0.85"/>
<circle cx="1923.5" cy="1640" r="3.6" opacity="0.85"/>
<circle cx="1926.5" cy="1660" r="2.2" opacity="0.85"/>
<circle cx="1915.5" cy="1640" r="2" opacity="0.85"/>
</g>
<g filter="url(#fb2)">
<ellipse cx="1917" cy="1557.8" rx="6" ry="5.6" fill="#12a616"/>
<ellipse cx="1889.6" cy="1634" rx="3.6" ry="12" fill="#28d814"/>
<ellipse cx="1890" cy="1637" rx="2.6" ry="5" fill="#38f818"/>
<ellipse cx="1972.5" cy="1529.5" rx="4" ry="8.5" fill="#708a10" transform="rotate(38 1972.5 1529.5)" opacity="0.9"/>
<ellipse cx="1969.5" cy="1530" rx="3" ry="6" fill="#2a6a0c" transform="rotate(38 1969.5 1530)" opacity="0.8"/>
<ellipse cx="2009" cy="1549" rx="6" ry="5" fill="#d07010" opacity="0.9"/>
<ellipse cx="1999" cy="1546" rx="4" ry="3.5" fill="#3a6a10" opacity="0.8"/>
<ellipse cx="1988.5" cy="1549.5" rx="3.4" ry="5" fill="#104a48" opacity="0.9"/>
<ellipse cx="1976" cy="1627" rx="6.5" ry="5.5" fill="#62c010" opacity="0.9"/>
<ellipse cx="1988" cy="1633" rx="6" ry="5" fill="#b0b810" opacity="0.9"/>
<ellipse cx="1978.5" cy="1613" rx="4" ry="4.5" fill="#58a010" opacity="0.9"/>
<ellipse cx="1985" cy="1621" rx="5" ry="5" fill="#90a010" opacity="0.9"/>
<ellipse cx="1958.5" cy="1675.5" rx="3.6" ry="3.6" fill="#d0b010" opacity="0.9"/>
<ellipse cx="1969" cy="1672" rx="3" ry="4" fill="#a07010" opacity="0.9"/>
<ellipse cx="1955" cy="1659.5" rx="2.4" ry="2.4" fill="#806010" opacity="0.9"/>
</g>
</g>
</g>
</svg>
</body>
</html>
